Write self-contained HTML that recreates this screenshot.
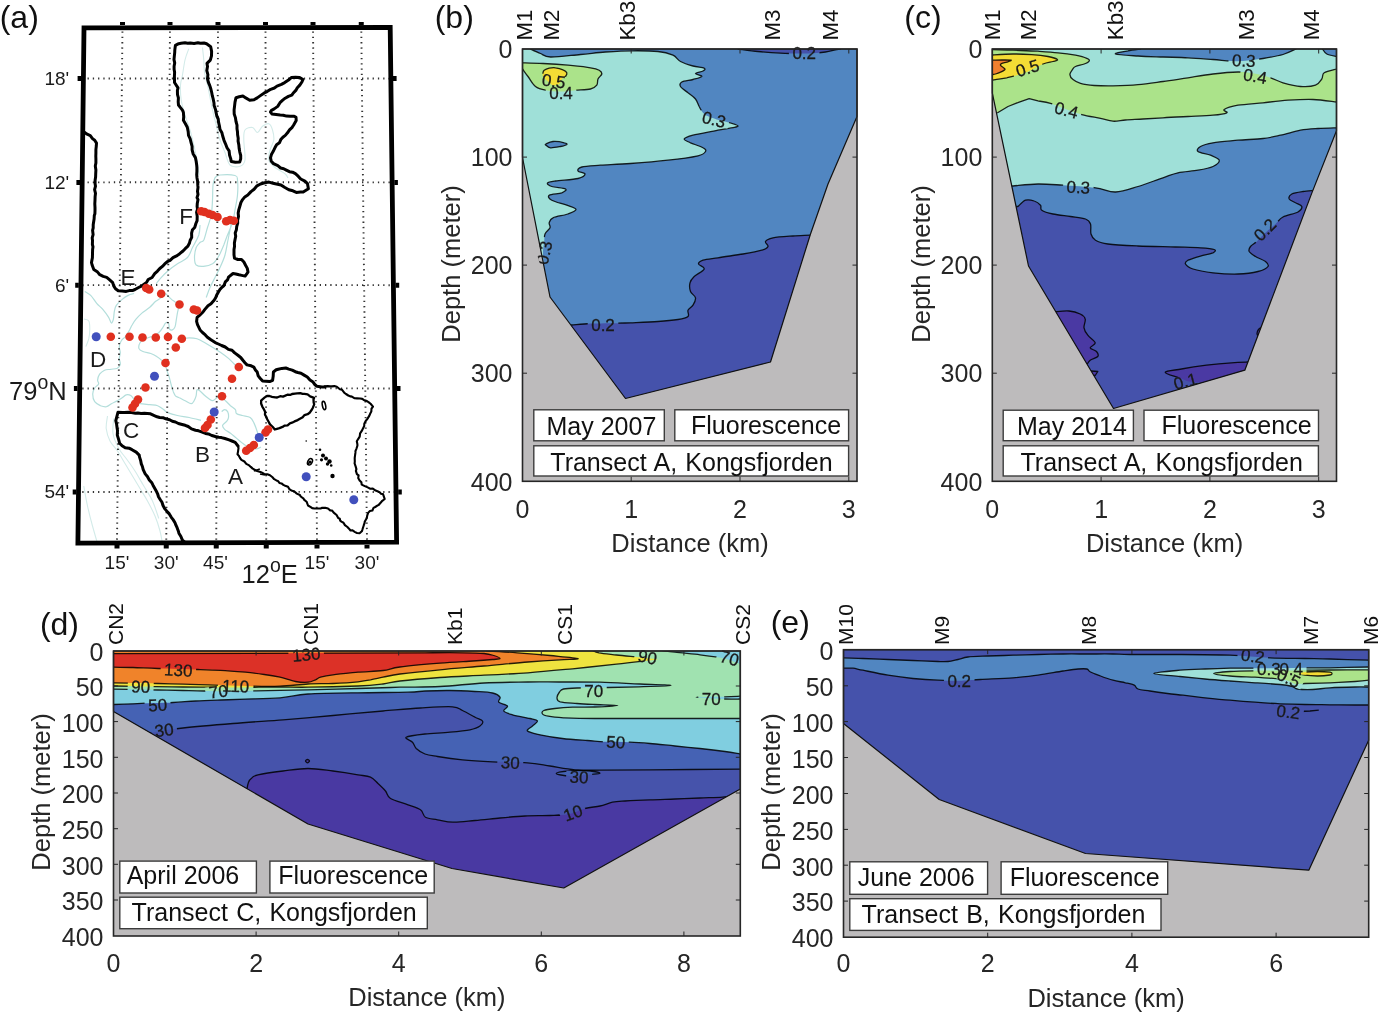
<!DOCTYPE html>
<html lang="en"><head><meta charset="utf-8"><title>Kongsfjorden fluorescence transects</title>
<style>html,body{margin:0;padding:0;background:#fff}svg{display:block}text{font-family:"Liberation Sans",Arial,sans-serif}</style>
</head><body>
<svg width="1382" height="1016" viewBox="0 0 1382 1016">
<rect width="1382" height="1016" fill="#fff"/>
<clipPath id="clip_a"><path d="M84.0 27.8 L390.2 27.5 L396.6 542.2 L77.9 543.2 Z"/></clipPath>
<g clip-path="url(#clip_a)">
<path d="M188.8 48.8 C188.1 50.6 186 55.6 185 60 C184 64.4 183.2 70.8 182.5 75 C181.8 79.2 180.7 80.8 180.5 85 C180.3 89.2 180.5 95 181.2 100 C182 105 183.5 110 185 115 C186.5 120 188.5 125 190 130 C191.5 135 192.6 140 193.8 145 C194.9 150 196.1 155 197 160 C197.9 165 198.7 172.5 199 175 M202.5 47.5 C202.7 49.6 203.4 55.8 203.8 60 C204.1 64.2 203.9 68.3 204.5 72.5 C205.1 76.7 206.6 80.8 207.5 85 C208.4 89.2 209.2 93.3 210 97.5 C210.8 101.7 211.5 105.4 212.5 110 C213.5 114.6 215 120 216.2 125 C217.5 130 218.5 135.4 220 140 C221.5 144.6 223.3 148.3 225 152.5 C226.7 156.7 227.5 162.7 230 165 C232.5 167.3 237.5 167.1 240 166.2 C242.5 165.4 244.4 164.4 245 160 C245.6 155.6 243.8 145 243.8 140 C243.8 135 243.5 132.1 245 130 C246.5 127.9 250.4 127.1 252.5 127.5 C254.6 127.9 255.8 132.7 257.5 132.5 C259.2 132.3 260.6 127.7 262.5 126.2 C264.4 124.8 267.1 123.1 268.8 123.8 C270.4 124.4 271.7 127.3 272.5 130 C273.3 132.7 274.2 136.7 273.8 140 C273.3 143.3 270.8 146.7 270 150 C269.2 153.3 267.9 157.1 268.8 160 C269.6 162.9 272.3 165.2 275 167.5 C277.7 169.8 282.8 172 285 173.8 C287.2 175.5 287.5 177.3 288 178 M83.9 319.1 C84.7 319.4 87.8 319.4 88.8 321 C89.8 322.7 89.8 325.9 89.8 328.9 C89.8 331.9 89.4 335.8 88.8 338.7 C88.1 341.7 86.3 345.3 85.8 346.6 M107.5 416 C107.3 418.1 105.8 424.3 106.2 428.5 C106.7 432.7 108.1 437.2 110 441 C111.9 444.8 115 447.2 117.5 451 C120 454.8 122.5 459.3 125 463.5 C127.5 467.7 130 471.8 132.5 476 C135 480.2 137.5 484.3 140 488.5 C142.5 492.7 145 496.4 147.5 501 C150 505.6 152.9 511 155 516 C157.1 521 158.8 526.4 160 531 C161.2 535.6 162.1 541.4 162.5 543.5 M83.8 486 C84.4 489.3 86 499.3 87.5 506 C89 512.7 90.8 519.8 92.5 526 C94.2 532.2 96.7 540.6 97.5 543.5 M113.8 418.5 C113.6 421 112.2 428.5 113 433.5 C113.8 438.5 116.5 444.3 118.8 448.5 C121 452.7 123.5 454.8 126.2 458.5 C129 462.2 132.1 466.4 135 471 C137.9 475.6 140.8 481 143.8 486 C146.7 491 150 495.6 152.5 501 C155 506.4 157.7 515.6 158.8 518.5 " fill="none" stroke="#d3ebe9" stroke-width="1.1"/>
<path d="M215 177.5 C215.8 177.1 216.7 175.3 220 175 C223.3 174.7 232.1 174.7 235 175.5 C237.9 176.3 237.1 176.8 237.5 180 C237.9 183.2 237.9 190 237.5 195 C237.1 200 235.8 205.4 235 210 C234.2 214.6 233.8 218.3 232.5 222.5 C231.2 226.7 229 231.2 227.5 235 C226 238.8 225 241.9 223.8 245 C222.5 248.1 221.2 251.2 220 253.8 C218.8 256.2 217.5 258.3 216.2 260 C215 261.7 214.4 262.7 212.5 263.8 C210.6 264.8 207.7 266 205 266.2 C202.3 266.5 198 266.5 196.2 265 C194.5 263.5 194.5 260.4 194.5 257.5 C194.5 254.6 195.3 250 196.2 247.5 C197.2 245 198.8 243.8 200 242.5 C201.2 241.2 202.5 242.5 203.8 240 C205 237.5 206.2 231.7 207.5 227.5 C208.8 223.3 210.4 219.6 211.2 215 C212.1 210.4 212.2 205 212.5 200 C212.8 195 212.6 188.8 213 185 C213.4 181.2 214.7 178.8 215 177.5 M200 225 C199.8 226.7 200 231.2 198.8 235 C197.5 238.8 194.4 243.8 192.5 247.5 C190.6 251.2 190 254.8 187.5 257.5 C185 260.2 180.8 261.5 177.5 263.8 C174.2 266 170.4 268.8 167.5 271.2 C164.6 273.8 161.9 276.7 160 278.8 C158.1 280.8 156.9 282.9 156.2 283.8 M232.5 217.5 C232.1 219.6 230.8 225.8 230 230 C229.2 234.2 228.3 238.3 227.5 242.5 C226.7 246.7 226.2 250.8 225 255 C223.8 259.2 221.7 263.8 220 267.5 C218.3 271.2 216.7 274.2 215 277.5 C213.3 280.8 211.5 284.2 210 287.5 C208.5 290.8 206.9 295.8 206.2 297.5 M165.6 293.5 C164.9 294.1 163.3 296.1 161.6 297.4 C160 298.7 157.7 299.7 155.7 301.3 C153.7 303 152.1 305.3 149.8 307.2 C147.5 309.2 144.2 311.2 141.9 313.1 C139.6 315.1 137.7 317.1 136 319.1 C134.4 321 133.2 323 132.1 325 C130.9 326.9 130.3 328.9 129.1 330.9 C128 332.8 126.5 335.1 125.2 336.8 C123.9 338.4 122.2 339.1 121.3 340.7 C120.3 342.3 119.5 344.6 119.3 346.6 C119.1 348.6 120.3 350.6 120.3 352.5 C120.3 354.5 119.3 356.5 119.3 358.4 C119.3 360.4 120.6 362.7 120.3 364.3 C119.9 366 119 367.4 117.3 368.3 C115.7 369.1 112.6 368.9 110.4 369.3 C108.3 369.6 106.3 369.4 104.5 370.2 C102.7 371.1 100.8 372.5 99.6 374.2 C98.5 375.8 97.8 378.4 97.6 380.1 C97.5 381.7 99.1 382.7 98.6 384 C98.1 385.3 95.7 386.3 94.7 388 C93.7 389.6 92.7 391.6 92.7 393.9 C92.7 396.2 93.4 399.8 94.7 401.7 C96 403.7 98.6 404.8 100.6 405.7 C102.6 406.5 104.7 407 106.5 406.7 C108.3 406.3 109.6 404.7 111.4 403.7 C113.2 402.7 115.5 401.7 117.3 400.7 C119.1 399.8 120.8 398.8 122.2 397.8 C123.7 396.8 124.7 395.2 126.2 394.8 C127.7 394.5 129.5 394.7 131.1 395.8 C132.7 397 134.5 400.4 136 401.7 C137.5 403 137.7 403.2 140 403.7 C142.3 404.2 146.9 404.4 149.8 404.7 C152.8 405 155.4 404.8 157.7 405.7 C160 406.5 161.9 408.5 163.6 409.6 C165.2 410.8 165.2 411.6 167.5 412.6 C169.8 413.5 173.8 414.7 177.4 415.5 C181 416.3 185.2 416.7 189.2 417.5 C193.1 418.3 199 419.9 201 420.4 M165.6 293.5 C166.5 294.4 169.8 297.9 171.5 299.4 C173.1 300.8 174.2 301 175.4 302.3 C176.5 303.6 178 305.4 178.3 307.2 C178.7 309 177.7 311.2 177.4 313.1 C177 315.1 176.8 316.8 176.4 319.1 C176 321.4 175.7 325.1 175 326.9 C174.3 328.7 173.4 329.6 172.4 329.9 C171.5 330.2 170.1 330 169.5 328.9 C168.8 327.7 169.2 324 168.5 323 C167.8 322 166.5 322.2 165.6 323 C164.6 323.8 163.7 326.3 162.6 327.9 C161.5 329.6 160.1 331.5 158.7 332.8 C157.2 334.1 155.5 335 153.7 335.8 C151.9 336.6 149.5 337.3 147.8 337.8 C146.2 338.2 145.2 337.9 143.9 338.7 C142.6 339.6 140.8 341 140 342.7 C139.1 344.3 138.5 347.1 139 348.6 C139.5 350.1 140.9 350.7 142.9 351.5 C144.9 352.4 148.5 352.7 150.8 353.5 C153.1 354.3 154.9 355.3 156.7 356.5 C158.5 357.6 160.1 358.8 161.6 360.4 C163.1 362 164.6 364.3 165.6 366.3 C166.5 368.3 166.9 370.2 167.5 372.2 C168.2 374.2 168.8 375.8 169.5 378.1 C170.1 380.4 170.8 383.7 171.5 386 C172.1 388.3 172.8 390.2 173.4 391.9 C174.1 393.5 174.4 394.8 175.4 395.8 C176.4 396.8 177.7 397 179.3 397.8 C181 398.6 183.3 399.8 185.2 400.7 C187.2 401.7 189.7 403.7 191.1 403.7 C192.6 403.7 193.3 402.1 194.1 400.7 C194.9 399.4 195.6 397.6 196.1 395.8 C196.6 394 196.4 390.7 197 389.9 C197.7 389.1 198.9 390.1 200 390.9 C201.1 391.7 202.5 393.5 203.9 394.8 C205.4 396.2 207.4 397.8 208.9 398.8 C210.3 399.8 211.5 400.9 212.8 400.7 C214.1 400.6 215.4 398.6 216.7 397.8 C218 397 219.4 395.5 220.7 395.8 C222 396.2 223 398.1 224.6 399.8 C226.2 401.4 228.7 404 230.5 405.7 C232.3 407.3 234.4 408.3 235.4 409.6 C236.4 410.9 235.3 412.6 236.4 413.5 C237.6 414.5 240 414.9 242.3 415.5 C244.6 416.2 248.2 416.2 250.2 417.5 C252.2 418.8 253 421.1 254.1 423.4 C255.3 425.7 256.3 429 257.1 431.3 C257.9 433.6 258.7 436.2 259.1 437.2 M221.7 411.6 C222.1 411.2 223.6 409.6 224.6 409.6 C225.6 409.6 226.9 410.3 227.6 411.6 C228.2 412.9 228.7 415.8 228.5 417.5 C228.4 419.1 227.6 420.1 226.6 421.4 C225.6 422.7 223 424 222.6 425.4 C222.3 426.7 223.3 428 224.6 429.3 C225.9 430.6 228.5 431.8 230.5 433.2 C232.5 434.7 234.4 436.5 236.4 438.1 C238.4 439.8 240.4 441.6 242.3 443.1 C244.3 444.5 245.9 446 248.2 447 C250.5 448 254 449 256.1 449 C258.2 449 260.2 447.3 261 447 M84.8 291.5 C85.8 292.2 88.8 293.5 90.7 295.4 C92.7 297.4 94.7 301 96.7 303.3 C98.6 305.6 100.6 306.9 102.6 309.2 C104.5 311.5 107 314.8 108.5 317.1 C109.9 319.4 110.6 322.7 111.4 323 C112.2 323.3 112.9 321 113.4 319.1 C113.9 317.1 113.9 313.5 114.4 311.2 C114.9 308.9 115 307.2 116.3 305.3 C117.7 303.3 120.3 301 122.2 299.4 C124.2 297.7 126.2 296.4 128.1 295.4 C130.1 294.4 133.1 293.8 134.1 293.5 M181.3 338.7 C182.6 338.6 186.5 337.8 189.2 337.8 C191.8 337.8 194.4 337.9 197 338.7 C199.7 339.6 202.3 341.2 204.9 342.7 C207.5 344.2 210.2 346 212.8 347.6 C215.4 349.2 218 350.7 220.7 352.5 C223.3 354.3 225.9 356.1 228.5 358.4 C231.2 360.7 235.1 365 236.4 366.3 " fill="none" stroke="#b3dedb" stroke-width="1.2"/>
<path d="M122.5 26.25 L117 543 M170 26.25 L166.25 543 M218 26.25 L216.25 543 M265.5 26.25 L266.25 543 M313 26.25 L317 543 M361.25 26.25 L367 543 M77 78.6 Q237 78.19999999999999 398 78.6 M77 182.4 Q237 182.0 398 182.4 M77 285.2 Q237 284.8 398 285.2 M77 388.5 Q237 388.1 398 388.5 M77 492 Q237 491.6 398 492 " fill="none" stroke="#333" stroke-width="1.9" stroke-dasharray="1.3 3.98"/>
<path d="M82 130 L84.7 132.5 L87.1 134.2 L90.3 135.6 L92.5 138.6 L94.7 140.2 L96.5 143.1 L96.3 146 L95.9 149.6 L95.9 153.1 L95.8 156.2 L95.9 158.9 L95.9 163 L95.3 166 L95.9 170 L95.7 173.8 L95.6 177.1 L95.1 180.3 L95.1 183.8 L95.5 186.2 L94.6 189.7 L95.5 193.3 L95.1 196.6 L95 200.2 L94.8 203.8 L95 207.4 L95 210.5 L94.9 213.7 L94.3 215.5 L94.1 219 L93.7 221.5 L93.2 224.7 L93.2 227.8 L92.6 230.3 L93.1 234.6 L92.2 237.8 L92.5 240.5 L92.4 244.5 L93 246.8 L92.6 249.5 L92.5 253.7 L92.4 257.8 L91.8 260.9 L91.5 262.6 L92.1 265 L93.8 269.6 L97.6 272.1 L99.8 274.7 L103.2 276.4 L106.7 277.4 L109.7 279.9 L112.7 282.6 L113.7 285.9 L115.5 288.8 L118.2 290.7 L122.2 291 L126.2 291.4 L129.2 290.6 L132.4 290.6 L135 289.5 L138.6 287.5 L141.4 286.2 L144.1 284.2 L146.6 282.4 L148.2 279.5 L152.1 277.5 L154.7 273.7 L157.5 271.1 L159.8 268.5 L162.4 266.4 L164.7 263.9 L167.6 261.5 L170.1 260.3 L173 257.7 L177.1 255.6 L179.7 253.7 L183 251 L185.2 248.7 L187.9 246.2 L189.5 243 L190.1 240.5 L191.7 237.4 L191.6 233.2 L192.5 229.7 L194.7 227.5 L195.9 223.5 L197.1 220.6 L197.2 216.4 L196.6 212.3 L197.5 209.3 L197.1 206.4 L197.3 203.2 L198 199.6 L197 197.6 L198 194.5 L197.5 191.3 L198 187.4 L197.8 185.4 L197.6 181.3 L197 178 L196.7 174.5 L196.9 171.3 L196.9 167.6 L196.7 165.2 L196.2 161.5 L195.4 157.6 L193.2 154 L192.1 149.8 L192.1 146.3 L191.2 143 L190.1 138.6 L188.5 135.4 L188.2 131.6 L187.3 127.2 L185.7 124.3 L183.4 120.3 L183.7 117 L183.4 112.5 L182.6 110.4 L180.1 107.2 L178.5 105 L178.2 101.9 L178.4 97.8 L177.5 94.6 L177.4 90.5 L178 87.9 L174.5 82.5 L174.5 79.4 L174.4 76.4 L174.6 72.3 L174.1 69.3 L174.1 66.3 L174.7 62.9 L174 59.6 L174.3 56.4 L174.7 52.7 L174.8 50.1 L175.4 45.4 L178.7 43.7 L181.1 43.3 L185 42.7 L187.6 43.2 L190.3 42.9 L194.1 43.4 L197.9 42.8 L200.4 43.3 L204 43 L206.6 43.8 L210.7 46.7 L211.6 51.4 L211.5 55.8 L210.3 60.1 L207 63.4 L207.5 66.5 L206.8 70.6 L207.9 74.6 L207.5 78.9 L208.4 82.3 L209.7 85.4 L210.8 88.8 L211.6 92 L212.3 95.7 L213.1 98.6 L214 103 L214.1 105.6 L215.5 109.5 L216 112.1 L216.8 116 L218.2 119 L218.6 122.4 L219.4 125.8 L220 129.4 L221.8 132.4 L222.7 136 L224 140.3 L225.5 143.8 L227 147.7 L229.1 150.9 L229.6 155.3 L230.7 158.6 L231.2 161.5 L235.3 162.2 L239.7 162.1 L240.7 158.9 L240.7 155.5 L239.8 152.1 L239.2 148.8 L238.8 144.7 L238.1 141.1 L238.2 138.2 L237.6 134.8 L237.5 131.9 L237 128.7 L237 125.1 L236 121.5 L235.4 117.6 L234.2 114 L234.1 109.9 L234.5 106.6 L235 102.2 L236 97.7 L239.2 96.8 L242.9 96 L245.8 97.9 L249.7 100.2 L254 99.8 L257.2 97.9 L260.4 95.6 L264.3 92.9 L267.1 91.6 L270.7 89.3 L274.4 88 L277 86.1 L281.4 84.3 L284.7 82.6 L288.5 80 L291.3 77.6 L295.6 77.2 L299.6 77.4 L302.9 79.6 L301.9 82 L299.8 85.1 L297.3 87.7 L295.8 90.4 L293.3 93 L291.8 95.2 L288.4 96.4 L285.2 98.2 L282.7 100.2 L280 102.7 L277.7 106.4 L274.2 108.9 L271.5 110.3 L270.5 112.1 L271.9 113.9 L276.1 114.5 L280.2 115 L283.3 115.2 L286.5 116.1 L290.3 116.3 L294.2 116.3 L296 117.4 L296.2 120.4 L293.8 124.7 L292.2 127.3 L289.5 129.9 L287.5 132.8 L285.3 135.4 L282.9 137.2 L280.8 139.6 L279.4 142.8 L276.6 144.7 L274.9 147.8 L273.1 151.6 L271.4 154.6 L270.5 157.9 L271.3 161.3 L273.5 163.6 L277.8 165.7 L280.6 168 L283.7 168.7 L286.3 170.1 L289.4 171.7 L292.5 172.2 L295.4 173.7 L298.4 176.4 L300.7 179 L304.9 181.2 L307.5 183.7 L308.4 188.8 L303.2 192 L300.5 192.1 L296.3 192.4 L292.9 190.8 L288.8 189.7 L284.5 187.3 L281 185 L277.5 184.2 L273 183.2 L269 182.1 L264.6 182.8 L260.5 184 L257 185.8 L254.1 189.2 L251 191.6 L247.8 195 L244.8 196.9 L242.6 199.6 L240.9 202.5 L239.9 206.1 L238.7 210.2 L238.2 213.1 L238.5 216.5 L237.6 220.4 L237.7 223.2 L236.7 226.7 L236.4 229.7 L235.2 233 L235.7 236.3 L235 239.7 L234.4 243 L234.5 246.4 L234 249.6 L234 254.9 L234.5 258.2 L237.8 259.5 L241.5 259.5 L243.9 262 L245.7 265.5 L247.3 268.4 L248 272.1 L245.1 276.1 L241.7 275.4 L239 274.8 L235.8 274 L233 273.5 L228.5 277.2 L227.5 279.9 L225.3 281.9 L224 285.5 L222.2 287 L219.9 289.5 L218.4 292 L216.6 295.2 L215.9 297.3 L214.3 300 L211 303.7 L208 305.7 L204.7 309.6 L203 312 L199.5 315.3 L197.1 317.4 L196.6 321.4 L197.5 324.6 L200.3 330.3 L202.5 332.5 L205.3 334.9 L207.4 337.2 L210.2 339.3 L212.1 340.6 L215.2 342.6 L218.4 344 L221.6 345.5 L225.2 347 L228.4 349.4 L232 350.2 L234.7 352.9 L237.9 355.3 L240.7 357.5 L242.9 360.3 L244.9 362.7 L247 364.9 L251.2 365.8 L253.8 367.1 L255.4 369.9 L257.2 372 L258.2 375.9 L260.1 378.2 L262.6 381 L265.9 381.3 L269.6 381.6 L272.6 380.3 L273.2 376.1 L273.4 372 L276.2 369.8 L278.2 369.3 L281.9 368.4 L285.8 368 L288.8 369.1 L292.2 370.1 L295.3 371.7 L297.8 372.5 L301 373.2 L304.1 375.1 L307.3 377 L310 380 L312.7 381.7 L314.8 384.5 L317 386.3 L322 386.9 L325 387" fill="none" stroke="#000" stroke-width="3" stroke-linejoin="round" stroke-linecap="round"/>
<path d="M238 446 L235.2 442.4 L231.9 441 L229.1 439.9 L224.9 438.5 L221.4 437.6 L218.8 437.2 L215.4 436.5 L211.8 435.5 L208.4 433.9 L205.5 433.4 L202.2 432 L198.6 430.8 L195.5 430.2 L191.5 428.9 L188.2 426.5 L185.2 425.3 L182.1 424.5 L178.4 423.5 L175.4 422 L172.3 421.3 L169.6 419.8 L165.8 418.9 L163 417.7 L159.6 417.5 L157.1 416.8 L154.3 415.6 L150.5 413.8 L147.3 413.5 L144.4 413.2 L141.1 413.4 L137.9 413 L135.4 413.3 L131.4 412.6 L128.3 412.2 L124.3 412.6 L122.5 412.5 L118 412.2 L117.1 415.6 L115.8 420.7 L116.6 424.2 L117.1 428 L117.5 430.5 L117.3 435.1 L118.7 439.6 L119.6 443.2 L122.1 445.8 L125.2 447.7 L129.1 448.2 L132 449.7 L136.2 452.1 L139.2 455.1 L139.5 456.9 L140.7 460.7 L141.3 463.9 L142.4 466.5 L143.2 469.7 L145.2 473.9 L147.4 476.5 L149.3 479.9 L151.6 482.4 L153 485.2 L154.4 487.7 L156.5 491.5 L157.6 493.8 L158.5 496.8 L160.3 499.7 L162 502.3 L163 505.6 L164.9 508.9 L167.4 511.9 L169.3 513.9 L171.3 517.3 L173.1 519.6 L175 522.7 L175.8 524.9 L177.1 527.7 L178.4 531.2 L178.9 533.2 L180.9 536.5 L182.4 540.1 L185 542.4 L187.5 544.8" fill="none" stroke="#000" stroke-width="3" stroke-linejoin="round" stroke-linecap="round"/>
<path d="M324.7 386.4 L327.7 386.1 L330.1 386.4 L331.8 386.4 L334.3 386.1 L336.8 386.8 L339.9 389.3 L341.9 389.6 L344.4 392.8 L346 394 L348.3 395.5 L350.6 396.4 L351.9 396.6 L354.7 398.3 L357 398.4 L360.2 398.5 L362.3 398.9 L363.7 399.9 L366.9 401.1 L368.5 402.1 L370.6 403.8 L373 406.6 L371.5 408.7 L371.3 411.6 L370.4 413.2 L369.5 415.4 L367.4 418.9 L365.7 421 L364.3 423.8 L364.2 426.1 L363.1 428.2 L361.6 431.2 L360.1 433.4 L359.7 436.7 L358.3 438.8 L356.8 441.3 L357.4 444.3 L357.4 445.7 L356.4 448.8 L355.5 450.9 L355.4 452.9 L354.9 456.4 L354.7 458.1 L354.8 461.6 L354.6 463.4 L355.7 466.6 L356.4 469.1 L355.9 470.9 L356.9 474.1 L358.6 475.4 L358.2 478.1 L359.6 480.6 L361.4 482.3 L361.7 484.6 L364.8 486.1 L368.2 487.6 L370 488.7 L372.8 488.6 L375.6 490.6 L378.1 491.5 L379.4 492.1 L381 493.7 L383 494.1 L383.9 496.7 L384.7 499 L382.3 500.8 L380.6 502.7 L378.6 505 L377.7 505.4 L375.2 507 L373.5 507.9 L372.4 510.5 L369.9 511 L368.1 512.9 L367.2 515.6 L366.8 518 L364.7 521.7 L364.6 522.9 L363.8 525.2 L362.5 529.3 L361.8 531.3 L359.6 533.3 L357 533 L355.1 532.1 L352.2 530.2 L350.5 530.5 L349 528.7 L347.4 527 L344.9 525.1 L343.5 522.7 L341.4 521.6 L340.2 520.7 L339.8 518.7 L338.2 518 L336.6 515 L333.7 512.6 L332 510.5 L330.2 510.4 L328 508.5 L325.2 507.7 L321.8 507.9 L320.7 508.5 L317.9 508.5 L314.5 508.5 L312.2 508.1 L310.8 507.1 L308 505.5 L306.6 501.7 L304 499.6 L303.6 498.6 L300.7 496.5 L299.9 495 L296.8 493.6 L294.4 491.5 L293.9 491.2 L291.3 490.4 L289.3 489.1 L288 486.8 L285.2 485.7 L283.3 484.9 L281.5 483.4 L279.4 482.9 L277.9 480.9 L276.4 480.4 L274.2 479.2 L272.5 477.3 L270 475.2 L267.4 474.2 L264.2 474 L262 472.6 L260.4 471.9 L257.2 471 L255.5 470.2 L252.7 468.6 L250.8 466.9 L249.2 465.4 L246.3 463.9 L244.4 461.5 L241.4 459.8 L240 458 L238.7 455.6 L237.5 454.2 L238 451.6 L238.5 448.1 L238 446" fill="none" stroke="#000" stroke-width="2.1" stroke-linejoin="round" stroke-linecap="round"/>
<path d="M261.3 400.3 L264.8 397.4 L267 395.9 L269.5 396 L272 396.8 L275.3 397.4 L277.1 397.5 L280.2 396.2 L283 396.6 L284.7 395.9 L287.4 394.7 L290.6 394.8 L292.1 394 L295 393.6 L297.1 393.3 L300.3 393.1 L302.6 393.8 L304.4 393.9 L307.6 394.3 L310.1 396.3 L314.1 397.8 L313.5 399.5 L313.7 402.6 L314.2 404.3 L312.9 407.7 L311.9 409.5 L309.6 412.8 L307.6 414.2 L304.5 415.1 L302.7 417.2 L299.5 419 L297.7 420.1 L294.5 421.4 L292 422.7 L289.9 423.3 L287.6 425.3 L284.7 425.6 L282.5 426.9 L279.5 428.1 L277 428.8 L274.8 429.5 L272.8 427 L270 424.4 L268.6 421.7 L267.2 419.2 L266.5 417.3 L265 414.7 L265.1 411.8 L264.1 409.7 L262.5 407 L261.1 403.5 L261.2 399.8" fill="none" stroke="#000" stroke-width="2.3" stroke-linejoin="round"/>
<circle cx="310" cy="462.2" r="1.6" fill="#000"/>
<circle cx="320" cy="449.8" r="1.3" fill="#000"/>
<circle cx="323" cy="455.5" r="2.0" fill="#000"/>
<circle cx="326" cy="458.5" r="2.0" fill="#000"/>
<circle cx="329.5" cy="461.5" r="2.2" fill="#000"/>
<circle cx="332.5" cy="476" r="2.2" fill="#000"/>
<circle cx="306.2" cy="441" r="0.8" fill="#000"/>
<circle cx="327.5" cy="464" r="1.7" fill="#000"/>
<circle cx="321.5" cy="459.8" r="1.6" fill="#000"/>
<circle cx="308" cy="464" r="1.2" fill="#000"/>
<circle cx="331.2" cy="465.5" r="1.3" fill="#000"/>
<ellipse cx="324" cy="405.5" rx="1.6" ry="4.2" fill="none" stroke="#000" stroke-width="1.6" transform="rotate(-12 324 405.5)"/>
<ellipse cx="310" cy="461.8" rx="2.2" ry="3.4" fill="none" stroke="#000" stroke-width="1.5" transform="rotate(25 310 461.8)"/>
<path d="M253.8 471 l6 -2 M260 474 l5 1" stroke="#000" stroke-width="1.5"/>
<circle cx="201.2" cy="211.2" r="4.3" fill="#e0301f"/>
<circle cx="204.5" cy="212" r="4.3" fill="#e0301f"/>
<circle cx="208.8" cy="213.8" r="4.3" fill="#e0301f"/>
<circle cx="212.5" cy="215" r="4.3" fill="#e0301f"/>
<circle cx="217.5" cy="217" r="4.3" fill="#e0301f"/>
<circle cx="226.2" cy="221.2" r="4.3" fill="#e0301f"/>
<circle cx="230" cy="220" r="4.3" fill="#e0301f"/>
<circle cx="233.8" cy="220.8" r="4.3" fill="#e0301f"/>
<circle cx="146.2" cy="288" r="4.3" fill="#e0301f"/>
<circle cx="149.2" cy="289.5" r="4.3" fill="#e0301f"/>
<circle cx="161.2" cy="293.8" r="4.3" fill="#e0301f"/>
<circle cx="179.5" cy="304.5" r="4.3" fill="#e0301f"/>
<circle cx="193.8" cy="309.5" r="4.3" fill="#e0301f"/>
<circle cx="197" cy="310.5" r="4.3" fill="#e0301f"/>
<circle cx="110.8" cy="336.8" r="4.3" fill="#e0301f"/>
<circle cx="129.5" cy="336.8" r="4.3" fill="#e0301f"/>
<circle cx="142.5" cy="337.5" r="4.3" fill="#e0301f"/>
<circle cx="155.8" cy="337.5" r="4.3" fill="#e0301f"/>
<circle cx="168" cy="337" r="4.3" fill="#e0301f"/>
<circle cx="181.8" cy="338.8" r="4.3" fill="#e0301f"/>
<circle cx="175.8" cy="347.5" r="4.3" fill="#e0301f"/>
<circle cx="165.5" cy="363" r="4.3" fill="#e0301f"/>
<circle cx="145.5" cy="387.5" r="4.3" fill="#e0301f"/>
<circle cx="138" cy="399.5" r="4.3" fill="#e0301f"/>
<circle cx="135" cy="403.8" r="4.3" fill="#e0301f"/>
<circle cx="132.5" cy="407.5" r="4.3" fill="#e0301f"/>
<circle cx="222" cy="396.2" r="4.3" fill="#e0301f"/>
<circle cx="210.8" cy="419.5" r="4.3" fill="#e0301f"/>
<circle cx="207.5" cy="425" r="4.3" fill="#e0301f"/>
<circle cx="205" cy="428" r="4.3" fill="#e0301f"/>
<circle cx="238.8" cy="367" r="4.3" fill="#e0301f"/>
<circle cx="232" cy="378.8" r="4.3" fill="#e0301f"/>
<circle cx="268" cy="429.5" r="4.3" fill="#e0301f"/>
<circle cx="265.5" cy="432.5" r="4.3" fill="#e0301f"/>
<circle cx="253.8" cy="445" r="4.3" fill="#e0301f"/>
<circle cx="250" cy="448" r="4.3" fill="#e0301f"/>
<circle cx="246.2" cy="450.8" r="4.3" fill="#e0301f"/>
<circle cx="96.2" cy="336.8" r="4.5" fill="#4150bd"/>
<circle cx="154.5" cy="376.2" r="4.5" fill="#4150bd"/>
<circle cx="214.2" cy="412" r="4.5" fill="#4150bd"/>
<circle cx="259.2" cy="437.5" r="4.5" fill="#4150bd"/>
<circle cx="306.2" cy="476.8" r="4.5" fill="#4150bd"/>
<circle cx="353.8" cy="499.8" r="4.5" fill="#4150bd"/>
</g>
<path d="M84.0 27.8 L390.2 27.5 L396.6 542.2 L77.9 543.2 Z" fill="none" stroke="#000" stroke-width="4.8" stroke-linejoin="miter"/>
<path d="M122.5 25 v-3 M170 25 v-3 M218 25 v-3 M265.5 25 v-3 M313 25 v-3 M361.25 25 v-3 M117 545 v3.5 M166.25 545 v3.5 M216.25 545 v3.5 M266.25 545 v3.5 M317 545 v3.5 M367 545 v3.5 M81.2 78.6 h-3.6 M393 78.6 h3.6 M80 182.4 h-3.6 M394.3 182.4 h3.6 M78.8 285.2 h-3.6 M395.6 285.2 h3.6 M77.5 388.5 h-3.6 M396.9 388.5 h3.6 M76.3 492 h-3.6 M398.2 492 h3.6 " stroke="#000" stroke-width="5" fill="none"/>
<text x="-0.3" y="27.8" font-size="32" text-anchor="start" fill="#111">(a)</text>
<text x="69.2" y="84.6" font-size="19" text-anchor="end" fill="#1a1a1a">18'</text>
<text x="69.2" y="188.6" font-size="19" text-anchor="end" fill="#1a1a1a">12'</text>
<text x="69.2" y="291.6" font-size="19" text-anchor="end" fill="#1a1a1a">6'</text>
<text x="69.2" y="498.1" font-size="19" text-anchor="end" fill="#1a1a1a">54'</text>
<text x="9" y="399.5" font-size="25.5" fill="#1a1a1a">79<tspan font-size="19.5" dy="-10.5">o</tspan><tspan dy="10.5">N</tspan></text>
<text x="117" y="568.5" font-size="19" text-anchor="middle" fill="#1a1a1a">15'</text>
<text x="166.2" y="568.5" font-size="19" text-anchor="middle" fill="#1a1a1a">30'</text>
<text x="215.5" y="568.5" font-size="19" text-anchor="middle" fill="#1a1a1a">45'</text>
<text x="317" y="568.5" font-size="19" text-anchor="middle" fill="#1a1a1a">15'</text>
<text x="367" y="568.5" font-size="19" text-anchor="middle" fill="#1a1a1a">30'</text>
<text x="241.5" y="582.5" font-size="25.5" fill="#1a1a1a">12<tspan font-size="19.5" dy="-10.5">o</tspan><tspan dy="10.5">E</tspan></text>
<text x="128" y="285" font-size="22.5" text-anchor="middle" fill="#1a1a1a">E</text>
<text x="98" y="367" font-size="22.5" text-anchor="middle" fill="#1a1a1a">D</text>
<text x="131.2" y="438" font-size="22.5" text-anchor="middle" fill="#1a1a1a">C</text>
<text x="186.2" y="223.8" font-size="22.5" text-anchor="middle" fill="#1a1a1a">F</text>
<text x="202.5" y="461.5" font-size="22.5" text-anchor="middle" fill="#1a1a1a">B</text>
<text x="235.5" y="484" font-size="22.5" text-anchor="middle" fill="#1a1a1a">A</text>
<rect x="522.5" y="49.0" width="334.5" height="432.3" fill="#bdbbbc"/>
<path d="M522.5 49 L522.5 157.5 L550 297 L625.5 398.5 L770.5 362 L810.5 234 L828 184 L857 116.5 L857 49 Z" fill="#5186c1" stroke="none" stroke-width="1.3" stroke-linejoin="round"/>
<clipPath id="clip_b"><path d="M522.5 49 L522.5 157.5 L550 297 L625.5 398.5 L770.5 362 L810.5 234 L828 184 L857 116.5 L857 49 Z"/></clipPath>
<defs>
<path id="b0" d="M530.5 39 L530.5 49 C532.2 49.8 537.2 52.2 540.5 53.5 C543.8 54.8 543.8 56.8 550.5 57 C557.2 57.2 571.3 55.3 580.5 54.5 C589.7 53.7 597 52.6 605.5 52 C614 51.4 623 50.8 631.8 50.8 C640.5 50.7 651.1 50.8 658 51.5 C664.9 52.2 669.2 53.6 673 55.2 C676.8 56.9 677.2 59.7 680.5 61.5 C683.8 63.3 689 64.9 693 66 C697 67.1 702.6 67.4 704.2 68.2 C705.9 69.1 704.5 70.1 703 71 C701.5 71.9 695.7 72.6 695.5 73.5 C695.3 74.4 702.2 75.5 701.8 76.5 C701.3 77.5 696.3 78.6 693 79.5 C689.7 80.4 683.8 80.8 681.8 82 C679.7 83.2 679.5 84.7 680.5 86.5 C681.5 88.3 685.5 90.7 688 92.8 C690.5 94.8 693.6 96.7 695.5 99 C697.4 101.3 697.8 104 699.2 106.5 C700.7 109 701.5 111.9 704.2 114 C707 116.1 709.9 117 715.5 119 C721.1 121 737.6 123.9 738 125.8 C738.4 127.6 725.5 128.7 718 130.2 C710.5 131.8 698.6 133.8 693 135.2 C687.4 136.7 684.7 137.8 684.2 139 C683.8 140.2 687.4 141.3 690.5 142.8 C693.6 144.2 700.5 146.3 703 147.8 C705.5 149.2 706.3 150.2 705.5 151.5 C704.7 152.8 704.2 154.3 698 155.8 C691.8 157.2 679.2 159 668 160.2 C656.8 161.5 641.8 162.7 630.5 163.5 C619.2 164.3 608.6 164.7 600.5 165.2 C592.4 165.8 585.5 166 581.8 167 C578 168 577.5 169.8 578 171 C578.5 172.2 585 172.8 585 174 C585 175.2 582.9 177.3 578 178.5 C573.1 179.7 560.6 180.2 555.5 181 C550.4 181.8 548.1 182.1 547.5 183 C546.9 183.9 548.8 185.5 551.8 186.5 C554.8 187.5 563.8 188 565.5 189 C567.2 190 564.5 191.7 561.8 192.8 C559 193.8 550.9 194 549.2 195.2 C547.6 196.5 548.8 198.6 551.8 200.2 C554.7 201.9 562.7 203.7 566.8 205.2 C570.8 206.8 575.8 208 576 209.5 C576.2 211 571.8 212.6 568 214 C564.2 215.4 556.1 216.3 553 217.8 C549.9 219.2 549.8 221.1 549.2 222.8 C548.8 224.4 550.7 225.9 550 227.8 C549.3 229.6 546 231.7 545 234 C544 236.3 544.6 238.6 544.2 241.5 C543.9 244.4 543.1 247.8 543 251.5 C542.9 255.2 543.4 261.9 543.5 264 L513.5 284 L482.5 157.5 L482.5 39 Z"/>
<path id="b1" d="M482.5 62.8 L522.5 62.8 C525.9 62.9 535.4 63.1 543 63.5 C550.6 63.9 560.1 64.5 568 65.2 C575.9 66 585.3 66.9 590.5 67.8 C595.7 68.6 597.4 69.2 599.2 70.2 C601.1 71.3 602 72.5 601.8 74 C601.5 75.5 598.8 77.1 598 79 C597.2 80.9 598 83.6 596.8 85.2 C595.5 86.9 594 88.2 590.5 89 C587 89.8 580.5 89.8 575.5 90.2 C570.5 90.7 565.5 91.5 560.5 91.5 C555.5 91.5 549.7 91.1 545.5 90.2 C541.3 89.4 538.4 88.8 535.5 86.5 C532.6 84.2 530.2 79.4 528 76.5 C525.8 73.6 523.4 70.2 522.5 69 L482.5 69 Z"/>
<path id="b2" d="M544.2 70.2 C545.3 69.5 547.4 68.7 549.2 68.2 C551.1 67.8 553.2 67.5 555.5 67.8 C557.8 68 561.1 68.9 563 69.8 C564.9 70.6 566.3 71.6 566.8 72.8 C567.2 73.9 566.3 75.5 565.5 76.5 C564.7 77.5 562.8 77.8 561.8 79 C560.7 80.2 560.7 83 559.2 84 C557.8 85 554.9 85.7 553 85.2 C551.1 84.8 549.7 83 548 81.5 C546.3 80 543.8 78 543 76.5 C542.2 75 542.8 73.8 543 72.8 C543.2 71.7 543.2 71 544.2 70.2 Z"/>
<path id="b3" d="M546 144 C547.2 143.4 550 141.7 553 141.5 C556 141.3 562 142.2 564.2 142.8 C566.5 143.2 567.4 143.9 566.8 144.5 C566.1 145.1 563.2 146 560.5 146.5 C557.8 147 552.9 148 550.5 147.8 C548.1 147.5 546.8 145.9 546 145.2 C545.2 144.6 544.8 144.6 546 144 Z"/>
<path id="b4" d="M850.5 235.2 L810.5 235.2 C807.6 235.4 799.2 235.6 793 236 C786.8 236.4 777.6 236.8 773 237.8 C768.4 238.7 766.3 240 765.5 241.5 C764.7 243 768.6 245 768 246.5 C767.4 248 765.9 249 761.8 250.2 C757.6 251.5 750.3 252.8 743 254 C735.7 255.2 724.7 256.7 718 257.8 C711.3 258.8 706.2 259.2 703 260.2 C699.8 261.3 698.3 262.5 698.5 264 C698.7 265.5 705 266.9 704.2 269 C703.5 271.1 696.6 274.2 694.2 276.5 C691.9 278.8 690.6 280.2 690 282.8 C689.4 285.2 689.6 289 690.5 291.5 C691.4 294 695.1 295.5 695.5 297.8 C695.9 300 694.2 303.2 693 305.2 C691.8 307.3 688.8 308.4 688 310.2 C687.2 312.1 689.7 315 688 316.5 C686.3 318 683 318.7 678 319.5 C673 320.3 665.9 321 658 321.5 C650.1 322 637.2 322.5 630.5 322.8 C623.8 323 624.7 323.1 618 323.2 C611.3 323.4 598.2 323.2 590.5 323.5 C582.8 323.8 574.9 324.8 571.8 325 L531.8 325 L531.8 481.3 L857 481.3 Z"/>
<path id="b5" d="M738 39 L738 49 C741.3 49.4 750.9 50.8 758 51.5 C765.1 52.2 774.7 52.9 780.5 53.2 C786.3 53.6 787.6 53.5 793 53.5 C798.4 53.5 807.6 53.5 813 53.2 C818.4 53 821.5 52.6 825.5 52 C829.5 51.4 834.2 50 836.8 49.5 C839.2 49 839.9 49.1 840.5 49 L840.5 39 Z"/>
</defs>
<g clip-path="url(#clip_b)" stroke="none">
<use href="#b0" fill="#9fe0d8"/>
<use href="#b1" fill="#abe38a"/>
<use href="#b2" fill="#f4dc35"/>
<use href="#b3" fill="#5186c1"/>
<use href="#b4" fill="#4552ab"/>
<use href="#b5" fill="#4552ab"/>
</g>
<mask id="m_clip_b" maskUnits="userSpaceOnUse" x="0" y="0" width="1382" height="1016"><rect x="0" y="0" width="1382" height="1016" fill="#fff"/><rect x="537.7" y="75.3" width="30.6" height="11.2" fill="#000" transform="rotate(8 553 87)"/><rect x="545.7" y="86.8" width="30.6" height="11.2" fill="#000"/><rect x="697.2" y="113.5" width="30.6" height="11.2" fill="#000" transform="rotate(15 712.5 125.2)"/><rect x="788.9" y="46.8" width="30.6" height="11.2" fill="#000"/><rect x="587.7" y="318.8" width="30.6" height="11.2" fill="#000"/><rect x="534.7" y="242.3" width="30.6" height="11.2" fill="#000" transform="rotate(-78 550 254)"/></mask>
<g clip-path="url(#clip_b)"><g mask="url(#m_clip_b)" fill="none" stroke="#000" stroke-opacity="0.85" stroke-width="1.3" stroke-linejoin="round">
<use href="#b0"/>
<use href="#b1"/>
<use href="#b2"/>
<use href="#b3"/>
<use href="#b4"/>
<use href="#b5"/>
</g></g>
<path d="M522.5 49 L522.5 157.5 L550 297 L625.5 398.5 L770.5 362 L810.5 234 L828 184 L857 116.5 L857 49 Z" fill="none" stroke="#111" stroke-width="1.2" stroke-linejoin="round"/>
<clipPath id="lc_clip_b"><path d="M507.5 34 L507.5 157.5 L550 297 L625.5 398.5 L770.5 362 L810.5 234 L828 184 L872 116.5 L872 34 Z"/></clipPath>
<g clip-path="url(#lc_clip_b)">
<text x="553" y="87" font-size="17" text-anchor="middle" fill="#1a1a1a" transform="rotate(8 553 87)" stroke="#1a1a1a" stroke-width="0.3">0.5</text>
<text x="561" y="98.5" font-size="17" text-anchor="middle" fill="#1a1a1a" stroke="#1a1a1a" stroke-width="0.3">0.4</text>
<text x="712.5" y="125.2" font-size="17" text-anchor="middle" fill="#1a1a1a" transform="rotate(15 712.5 125.2)" stroke="#1a1a1a" stroke-width="0.3">0.3</text>
<text x="804.2" y="58.5" font-size="17" text-anchor="middle" fill="#1a1a1a" stroke="#1a1a1a" stroke-width="0.3">0.2</text>
<text x="603" y="330.5" font-size="17" text-anchor="middle" fill="#1a1a1a" stroke="#1a1a1a" stroke-width="0.3">0.2</text>
<text x="550" y="254" font-size="17" text-anchor="middle" fill="#1a1a1a" transform="rotate(-78 550 254)" stroke="#1a1a1a" stroke-width="0.3">0.3</text>
</g>
<g stroke="#262626" stroke-width="1.6" fill="none">
<rect x="522.5" y="49" width="334.5" height="432.3"/>
<path d="M631.2 481.3 v-4.5 M631.2 49 v4.5 M740 481.3 v-4.5 M740 49 v4.5 M848.8 481.3 v-4.5 M848.8 49 v4.5 M522.5 157.1 h4.5 M857 157.1 h-4.5 M522.5 265.1 h4.5 M857 265.1 h-4.5 M522.5 373.2 h4.5 M857 373.2 h-4.5 " stroke-width="1"/>
</g>
<text x="512.5" y="58.2" font-size="25" text-anchor="end" fill="#262626">0</text>
<text x="512.5" y="166.3" font-size="25" text-anchor="end" fill="#262626">100</text>
<text x="512.5" y="274.3" font-size="25" text-anchor="end" fill="#262626">200</text>
<text x="512.5" y="382.4" font-size="25" text-anchor="end" fill="#262626">300</text>
<text x="512.5" y="490.5" font-size="25" text-anchor="end" fill="#262626">400</text>
<text x="522.5" y="517.8" font-size="25" text-anchor="middle" fill="#262626">0</text>
<text x="631.2" y="517.8" font-size="25" text-anchor="middle" fill="#262626">1</text>
<text x="740" y="517.8" font-size="25" text-anchor="middle" fill="#262626">2</text>
<text x="848.8" y="517.8" font-size="25" text-anchor="middle" fill="#262626">3</text>
<text x="690" y="552.4" font-size="25.5" text-anchor="middle" fill="#262626">Distance (km)</text>
<text x="459.5" y="264" font-size="25.5" text-anchor="middle" fill="#262626" transform="rotate(-90 459.5 264)">Depth (meter)</text>
<text x="434.7" y="28.2" font-size="32" text-anchor="start" fill="#111">(b)</text>
<text x="531.8" y="40.6" font-size="22.3" text-anchor="start" fill="#111" transform="rotate(-90 531.8 40.6)">M1</text>
<text x="559" y="40.6" font-size="22.3" text-anchor="start" fill="#111" transform="rotate(-90 559 40.6)">M2</text>
<text x="635.1" y="40.6" font-size="22.3" text-anchor="start" fill="#111" transform="rotate(-90 635.1 40.6)">Kb3</text>
<text x="779.8" y="40.6" font-size="22.3" text-anchor="start" fill="#111" transform="rotate(-90 779.8 40.6)">M3</text>
<text x="838.5" y="40.6" font-size="22.3" text-anchor="start" fill="#111" transform="rotate(-90 838.5 40.6)">M4</text>
<rect x="533.8" y="409.8" width="130.5" height="31" fill="#fff" stroke="#3c3c3c" stroke-width="1.4"/>
<text x="546.5" y="435" font-size="25" text-anchor="start" fill="#111">May 2007</text>
<rect x="674.8" y="409.8" width="173.8" height="31" fill="#fff" stroke="#3c3c3c" stroke-width="1.4"/>
<text x="691" y="434.4" font-size="25" text-anchor="start" fill="#111">Fluorescence</text>
<rect x="533.8" y="445.8" width="314.8" height="30.2" fill="#fff" stroke="#3c3c3c" stroke-width="1.4"/>
<text x="550.3" y="470.6" font-size="25" text-anchor="start" fill="#111" word-spacing="1.3">Transect A, Kongsfjorden</text>
<rect x="992.3" y="49.0" width="344.20000000000005" height="432.3" fill="#bdbbbc"/>
<path d="M992.3 49 L992.3 92.8 L1028.5 266 L1113.5 408.5 L1244.8 370.2 L1311.6 193.6 L1336.5 130.8 L1336.5 49 Z" fill="#4552ab" stroke="none" stroke-width="1.3" stroke-linejoin="round"/>
<clipPath id="clip_c"><path d="M992.3 49 L992.3 92.8 L1028.5 266 L1113.5 408.5 L1244.8 370.2 L1311.6 193.6 L1336.5 130.8 L1336.5 49 Z"/></clipPath>
<defs>
<path id="c0" d="M978 206.5 L1018 206.5 C1019.2 205.5 1022.8 201.2 1025.5 200.2 C1028.2 199.3 1031.8 200.2 1034.2 201 C1036.8 201.8 1039.2 203.7 1040.5 205.2 C1041.8 206.8 1039.7 208.8 1041.8 210.2 C1043.8 211.7 1048.2 213 1053 214 C1057.8 215 1065.1 215.7 1070.5 216.5 C1075.9 217.3 1082.2 217.8 1085.5 219 C1088.8 220.2 1089.6 221.5 1090.5 224 C1091.4 226.5 1090.2 231.3 1091 234 C1091.8 236.7 1092.7 238.6 1095.5 240.2 C1098.3 241.9 1100.9 243 1108 244 C1115.1 245 1126.8 245.5 1138 246 C1149.2 246.5 1165.1 246.7 1175.5 247 C1185.9 247.3 1194 247.3 1200.5 247.8 C1207 248.2 1212.2 248.7 1214.2 249.5 C1216.3 250.3 1215.3 251.7 1213 252.8 C1210.7 253.8 1204.7 254.8 1200.5 256 C1196.3 257.2 1190.5 258.9 1188 260.2 C1185.5 261.6 1184.7 262.5 1185.5 264 C1186.3 265.5 1188.4 267.5 1193 269 C1197.6 270.5 1205.5 271.9 1213 272.8 C1220.5 273.6 1230.5 274.2 1238 274 C1245.5 273.8 1253 272.8 1258 271.5 C1263 270.2 1266.8 268.2 1268 266.5 C1269.2 264.8 1267.6 263.2 1265.5 261.5 C1263.4 259.8 1258.2 258.2 1255.5 256.5 C1252.8 254.8 1250.1 253.2 1249.2 251.5 C1248.4 249.8 1249.2 248.2 1250.5 246.5 C1251.8 244.8 1254.2 243.8 1256.8 241.5 C1259.2 239.2 1262.4 235.7 1265.5 232.8 C1268.6 229.8 1272.6 226.6 1275.5 224 C1278.4 221.4 1279.2 219 1283 217 C1286.8 215 1294.9 213.8 1298 212 C1301.1 210.2 1302.2 208 1301.8 206.5 C1301.3 205 1297.6 204 1295.5 202.8 C1293.4 201.5 1289.9 200.5 1289.2 199 C1288.6 197.5 1289.5 195.2 1291.8 194 C1294 192.8 1299 192.1 1303 191.5 C1307 190.9 1313.8 190.5 1316 190.2 L1356 190.2 L1376.5 29 L952.3 29 Z"/>
<path id="c1" d="M973 186 L1013 186 C1017.2 185.7 1029.7 184.1 1038 184 C1046.3 183.9 1053.4 184.6 1063 185.2 C1072.6 185.9 1086.8 186.6 1095.5 187.8 C1104.2 188.9 1108.4 192.2 1115.5 192 C1122.6 191.8 1130.1 188.9 1138 186.5 C1145.9 184.1 1156.3 180 1163 177.8 C1169.7 175.5 1172.2 174 1178 172.8 C1183.8 171.5 1192.2 171.3 1198 170.2 C1203.8 169.2 1209.5 168.2 1213 166.5 C1216.5 164.8 1219.7 162.1 1219.2 160.2 C1218.8 158.4 1214 156.7 1210.5 155.2 C1207 153.8 1199.7 153 1198 151.5 C1196.3 150 1198 148 1200.5 146.5 C1203 145 1206.8 143.8 1213 142.8 C1219.2 141.7 1229.7 141 1238 140.2 C1246.3 139.5 1255.9 139.3 1263 138.5 C1270.1 137.7 1274.2 136.6 1280.5 135.2 C1286.8 133.9 1294.2 131.4 1300.5 130.2 C1306.8 129.1 1312 128.9 1318 128.5 C1324 128.1 1333.4 127.9 1336.5 127.8 L1376.5 127.8 L1376.5 29 L952.3 29 Z"/>
<path id="c2" d="M958 124.5 L998 112.5 L1008 106.5 L1019.2 102.1 L1029.2 98.6 L1038 100.9 L1038 100.9 C1040.1 101.3 1045.9 102 1050.5 103.4 C1055.1 104.7 1060.3 107.1 1065.5 109 C1070.7 110.9 1075.9 113.1 1081.8 114.6 C1087.6 116.2 1095.3 117.3 1100.5 118.4 C1105.7 119.5 1108.8 121 1113 121.2 C1117.2 121.5 1120.5 120.4 1125.5 120 C1130.5 119.6 1136.8 119.4 1143 119 C1149.2 118.6 1155.5 118.2 1163 117.8 C1170.5 117.3 1179.7 116.9 1188 116.5 C1196.3 116.1 1206.5 115.9 1213 115.2 C1219.5 114.6 1224.9 113.7 1226.8 112.8 C1228.6 111.8 1222.4 110.8 1224.2 109.5 C1226.1 108.2 1231.5 106.4 1238 105.2 C1244.5 104.1 1254.7 103.6 1263 102.8 C1271.3 101.9 1279.7 100.8 1288 100.2 C1296.3 99.7 1304.9 99.2 1313 99.5 C1321.1 99.8 1332.6 101.6 1336.5 102 L1376.5 102 L1376.5 29 L952.3 29 Z"/>
<path id="c3" d="M952.3 46 L992.4 49.6 C995.8 49.7 1005.4 50 1013 50.2 C1020.6 50.5 1030.5 50.8 1038 51.2 C1045.5 51.7 1051.8 52.1 1058 52.8 C1064.2 53.4 1070.7 54.3 1075.5 55.2 C1080.3 56.2 1084.5 57.4 1086.8 58.4 C1089 59.3 1089.7 59.9 1089.2 60.9 C1088.8 61.8 1086.5 63.1 1084.2 64 C1082 64.9 1077.5 65.6 1075.5 66.5 C1073.5 67.4 1073.3 68.3 1072.4 69.6 C1071.4 71 1069.8 73 1069.9 74.6 C1070 76.3 1071.2 78.2 1073 79.6 C1074.8 81.1 1077 82.4 1080.5 83.4 C1084 84.4 1088.8 85.1 1094.2 85.5 C1099.7 85.9 1105.7 86 1113 85.9 C1120.3 85.7 1129.7 85.4 1138 84.6 C1146.3 83.9 1154.7 82.6 1163 81.5 C1171.3 80.4 1179.7 79 1188 77.8 C1196.3 76.5 1204.7 75 1213 74 C1221.3 73 1231.1 72.1 1238 72 C1244.9 71.9 1248.8 72.5 1254.2 73.5 C1259.7 74.5 1265.7 76.2 1270.5 77.8 C1275.3 79.3 1278 81.3 1283 82.8 C1288 84.2 1295.1 86.1 1300.5 86.5 C1305.9 86.9 1312 86.5 1315.5 85.2 C1319 84 1320.3 81.1 1321.8 79 C1323.2 76.9 1321.8 74.4 1324.2 72.8 C1326.7 71.1 1334.5 69.6 1336.5 69 L1376.5 69 L1376.5 29 L952.3 29 Z"/>
<path id="c4" d="M1145.5 39 L1140.5 49 C1138.4 49.3 1132.2 49.9 1128 50.8 C1123.8 51.6 1113.8 53.1 1115.5 54 C1117.2 54.9 1130.1 55.5 1138 56 C1145.9 56.5 1154.7 56.7 1163 57 C1171.3 57.3 1179.7 57.3 1188 57.8 C1196.3 58.2 1205.9 59 1213 59.5 C1220.1 60 1225.5 60.8 1230.5 61 C1235.5 61.2 1237.6 61.4 1243 61 C1248.4 60.6 1256.3 59.6 1263 58.5 C1269.7 57.4 1277.5 56.1 1283 54.5 C1288.5 52.9 1293.8 49.9 1296 49 L1301 39 Z"/>
<path id="c5" d="M1319.5 39 L1322.5 49 C1323.2 49.8 1324.4 52.8 1326.8 54 C1329.1 55.2 1334.9 56.1 1336.5 56.5 L1376.5 56.5 L1376.5 39 Z"/>
<path id="c6" d="M952.3 55 L992.4 55 C995.8 54.8 1006.4 54.1 1013 54 C1019.6 53.9 1025.9 54.2 1031.8 54.6 C1037.6 55 1043.7 55.7 1048 56.5 C1052.3 57.3 1056.5 58.8 1057.4 59.6 C1058.2 60.5 1055.4 60.8 1053 61.5 C1050.6 62.2 1047 62.4 1043 64 C1039 65.6 1033.6 69 1029.2 70.9 C1024.9 72.8 1020.5 74.1 1016.8 75.2 C1013 76.4 1010.3 77 1006.8 77.8 C1003.2 78.5 997.9 79.2 995.5 79.6 C993.1 80 992.9 80.1 992.4 80.2 L952.3 80.2 Z"/>
<path id="c7" d="M952.3 60.2 L992.4 60.2 C993.9 60.2 998.6 60 1001.8 60 C1004.9 60 1010.3 59.9 1011.1 60.2 C1012 60.6 1008.3 61.6 1006.8 62.1 C1005.2 62.6 1002.8 62.9 1001.8 63.4 C1000.7 63.9 1000.2 64.5 1000.5 65.2 C1000.8 66 1002.9 67 1003.6 67.8 C1004.4 68.5 1005.4 68.9 1004.9 69.6 C1004.4 70.4 1002.1 71.4 1000.5 72.1 C998.9 72.9 996.9 73.6 995.5 74 C994.1 74.4 992.9 74.5 992.4 74.6 L952.3 74.6 Z"/>
<path id="c8" d="M1015.2 311.8 L1055.2 311.8 C1057.5 311.6 1064.8 310.6 1069 311 C1073.2 311.4 1077.5 312.7 1080.2 314 C1083 315.3 1084.6 316.7 1085.2 319 C1085.9 321.3 1083.6 325 1084 327.8 C1084.4 330.5 1085.9 332.8 1087.8 335.2 C1089.6 337.8 1094.8 340.7 1095.2 342.8 C1095.7 344.8 1090 346.3 1090.2 347.8 C1090.5 349.2 1095.2 350 1096.5 351.5 C1097.8 353 1098.8 355 1097.8 356.5 C1096.7 358 1092 358.9 1090.2 360.2 C1088.5 361.6 1087.5 363.8 1087 364.5 L1027 364.5 Z"/>
<path id="c9" d="M1071 371 L1091 371 L1097.8 371.5 L1095.2 375.5 L1075.2 375.5 Z"/>
<path id="c10" d="M1211.5 412.8 L1201.5 382.8 C1199.4 382.5 1192.8 382.3 1189 381.5 C1185.2 380.7 1183 379.3 1179 377.8 C1175 376.2 1164.8 373.7 1165.2 372.2 C1165.7 370.8 1174.6 370.2 1181.5 369 C1188.4 367.8 1198.2 366.3 1206.5 365.2 C1214.8 364.2 1224.6 363.3 1231.5 362.8 C1238.4 362.2 1245 362.1 1247.8 362 L1287.8 362 L1287.8 422 Z"/>
<path id="c11" d="M1292 327 L1262 327 C1261.4 327.4 1259.3 328.4 1258.5 329.5 C1257.7 330.6 1257 332.2 1257 333.5 C1257 334.8 1258.2 336.4 1258.5 337 L1288.5 337 Z"/>
</defs>
<g clip-path="url(#clip_c)" stroke="none">
<use href="#c0" fill="#5186c1"/>
<use href="#c1" fill="#9fe0d8"/>
<use href="#c2" fill="#abe38a"/>
<use href="#c3" fill="#9fe0d8"/>
<use href="#c4" fill="#5186c1"/>
<use href="#c5" fill="#5186c1"/>
<use href="#c6" fill="#f4dc35"/>
<use href="#c7" fill="#f07f2e"/>
<use href="#c8" fill="#4a39a3"/>
<use href="#c9" fill="#4a39a3"/>
<use href="#c10" fill="#4a39a3"/>
<use href="#c11" fill="#4a39a3"/>
</g>
<mask id="m_clip_c" maskUnits="userSpaceOnUse" x="0" y="0" width="1382" height="1016"><rect x="0" y="0" width="1382" height="1016" fill="#fff"/><rect x="1013.9" y="62" width="30.6" height="11.2" fill="#000" transform="rotate(-17 1029.2 73.8)"/><rect x="1049.6" y="104.1" width="30.6" height="11.2" fill="#000" transform="rotate(15 1064.9 115.9)"/><rect x="1228.2" y="54.8" width="30.6" height="11.2" fill="#000" transform="rotate(3 1243.5 66.5)"/><rect x="1238.9" y="70.3" width="30.6" height="11.2" fill="#000" transform="rotate(10 1254.2 82)"/><rect x="1062.7" y="181.5" width="30.6" height="11.2" fill="#000" transform="rotate(3 1078 193.2)"/><rect x="1253.9" y="222.3" width="30.6" height="11.2" fill="#000" transform="rotate(-45 1269.2 234)"/><rect x="1171.7" y="375.3" width="30.6" height="11.2" fill="#000" transform="rotate(-15 1187 387)"/></mask>
<g clip-path="url(#clip_c)"><g mask="url(#m_clip_c)" fill="none" stroke="#000" stroke-opacity="0.85" stroke-width="1.3" stroke-linejoin="round">
<use href="#c0"/>
<use href="#c1"/>
<use href="#c2"/>
<use href="#c3"/>
<use href="#c4"/>
<use href="#c5"/>
<use href="#c6"/>
<use href="#c7"/>
<use href="#c8"/>
<use href="#c9"/>
<use href="#c10"/>
<use href="#c11"/>
</g></g>
<path d="M992.3 49 L992.3 92.8 L1028.5 266 L1113.5 408.5 L1244.8 370.2 L1311.6 193.6 L1336.5 130.8 L1336.5 49 Z" fill="none" stroke="#111" stroke-width="1.2" stroke-linejoin="round"/>
<clipPath id="lc_clip_c"><path d="M977.3 34 L977.3 92.8 L1028.5 266 L1113.5 408.5 L1244.8 370.2 L1311.6 193.6 L1351.5 130.8 L1351.5 34 Z"/></clipPath>
<g clip-path="url(#lc_clip_c)">
<text x="1029.2" y="73.8" font-size="17" text-anchor="middle" fill="#1a1a1a" transform="rotate(-17 1029.2 73.8)" stroke="#1a1a1a" stroke-width="0.3">0.5</text>
<text x="1064.9" y="115.9" font-size="17" text-anchor="middle" fill="#1a1a1a" transform="rotate(15 1064.9 115.9)" stroke="#1a1a1a" stroke-width="0.3">0.4</text>
<text x="1243.5" y="66.5" font-size="17" text-anchor="middle" fill="#1a1a1a" transform="rotate(3 1243.5 66.5)" stroke="#1a1a1a" stroke-width="0.3">0.3</text>
<text x="1254.2" y="82" font-size="17" text-anchor="middle" fill="#1a1a1a" transform="rotate(10 1254.2 82)" stroke="#1a1a1a" stroke-width="0.3">0.4</text>
<text x="1078" y="193.2" font-size="17" text-anchor="middle" fill="#1a1a1a" transform="rotate(3 1078 193.2)" stroke="#1a1a1a" stroke-width="0.3">0.3</text>
<text x="1269.2" y="234" font-size="17" text-anchor="middle" fill="#1a1a1a" transform="rotate(-45 1269.2 234)" stroke="#1a1a1a" stroke-width="0.3">0.2</text>
<text x="1187" y="387" font-size="17" text-anchor="middle" fill="#1a1a1a" transform="rotate(-15 1187 387)" stroke="#1a1a1a" stroke-width="0.3">0.1</text>
</g>
<g stroke="#262626" stroke-width="1.6" fill="none">
<rect x="992.3" y="49" width="344.2" height="432.3"/>
<path d="M1101.1 481.3 v-4.5 M1101.1 49 v4.5 M1209.9 481.3 v-4.5 M1209.9 49 v4.5 M1318.7 481.3 v-4.5 M1318.7 49 v4.5 M992.3 157.1 h4.5 M1336.5 157.1 h-4.5 M992.3 265.1 h4.5 M1336.5 265.1 h-4.5 M992.3 373.2 h4.5 M1336.5 373.2 h-4.5 " stroke-width="1"/>
</g>
<text x="982.3" y="58.2" font-size="25" text-anchor="end" fill="#262626">0</text>
<text x="982.3" y="166.3" font-size="25" text-anchor="end" fill="#262626">100</text>
<text x="982.3" y="274.3" font-size="25" text-anchor="end" fill="#262626">200</text>
<text x="982.3" y="382.4" font-size="25" text-anchor="end" fill="#262626">300</text>
<text x="982.3" y="490.5" font-size="25" text-anchor="end" fill="#262626">400</text>
<text x="992.3" y="517.8" font-size="25" text-anchor="middle" fill="#262626">0</text>
<text x="1101.1" y="517.8" font-size="25" text-anchor="middle" fill="#262626">1</text>
<text x="1209.9" y="517.8" font-size="25" text-anchor="middle" fill="#262626">2</text>
<text x="1318.7" y="517.8" font-size="25" text-anchor="middle" fill="#262626">3</text>
<text x="1164.6" y="552.4" font-size="25.5" text-anchor="middle" fill="#262626">Distance (km)</text>
<text x="929.5" y="264" font-size="25.5" text-anchor="middle" fill="#262626" transform="rotate(-90 929.5 264)">Depth (meter)</text>
<text x="904.3" y="28.2" font-size="32" text-anchor="start" fill="#111">(c)</text>
<text x="1000.1" y="40.2" font-size="22.3" text-anchor="start" fill="#111" transform="rotate(-90 1000.1 40.2)">M1</text>
<text x="1036" y="40.2" font-size="22.3" text-anchor="start" fill="#111" transform="rotate(-90 1036 40.2)">M2</text>
<text x="1123" y="40.2" font-size="22.3" text-anchor="start" fill="#111" transform="rotate(-90 1123 40.2)">Kb3</text>
<text x="1253.6" y="40.2" font-size="22.3" text-anchor="start" fill="#111" transform="rotate(-90 1253.6 40.2)">M3</text>
<text x="1318.9" y="40.2" font-size="22.3" text-anchor="start" fill="#111" transform="rotate(-90 1318.9 40.2)">M4</text>
<rect x="1003.2" y="410.2" width="130.2" height="30.5" fill="#fff" stroke="#3c3c3c" stroke-width="1.4"/>
<text x="1017" y="435" font-size="25" text-anchor="start" fill="#111">May 2014</text>
<rect x="1144" y="410.2" width="174.5" height="30.5" fill="#fff" stroke="#3c3c3c" stroke-width="1.4"/>
<text x="1161.5" y="434.4" font-size="25" text-anchor="start" fill="#111">Fluorescence</text>
<rect x="1003.2" y="445.8" width="315.2" height="30.2" fill="#fff" stroke="#3c3c3c" stroke-width="1.4"/>
<text x="1020.5" y="470.6" font-size="25" text-anchor="start" fill="#111" word-spacing="1.3">Transect A, Kongsfjorden</text>
<rect x="113.5" y="651.0" width="626.8" height="285.0" fill="#bdbbbc"/>
<path d="M113.5 651 L113.5 711.5 L308 824 L452 868.5 L563.8 888 L740.3 789 L740.3 651 Z" fill="#4939a2" stroke="none" stroke-width="1.3" stroke-linejoin="round"/>
<clipPath id="clip_d"><path d="M113.5 651 L113.5 711.5 L308 824 L452 868.5 L563.8 888 L740.3 789 L740.3 651 Z"/></clipPath>
<defs>
<path id="d0" d="M73.5 829.8 L186.8 829.8 L238.8 795.8 L246.8 789.8 C247 788.5 247.7 784.2 248.5 782.2 C249.3 780.3 250.2 779.2 251.8 778 C253.3 776.8 252.8 775.9 258 774.8 C263.2 773.6 274.7 772 283 771 C291.3 770 299.7 768.5 308 768.5 C316.3 768.5 324.7 770 333 771 C341.3 772 351.8 773.7 358 774.8 C364.2 775.8 367.2 775.8 370.5 777.2 C373.8 778.7 375.5 781.2 378 783.5 C380.5 785.8 383.4 788.5 385.5 791 C387.6 793.5 386.8 796.2 390.5 798.5 C394.2 800.8 403 802.9 408 804.8 C413 806.6 417.6 807.7 420.5 809.8 C423.4 811.8 422.7 815.6 425.5 817.2 C428.3 818.9 432.9 818.9 437.5 819.8 C442.1 820.6 446.8 822.1 453 822.2 C459.2 822.4 467.2 821.2 475 820.5 C482.8 819.8 491.7 818.8 500 818 C508.3 817.2 516.7 816.4 525 816 C533.3 815.6 542.5 815.8 550 815.5 C557.5 815.2 564.2 815.2 570 814 C575.8 812.8 580 809.8 585 808.5 C590 807.2 595.4 807 600 806 C604.6 805 608.3 803.1 612.5 802.2 C616.7 801.4 618.8 801.4 625 801 C631.2 800.6 641.7 800.1 650 799.8 C658.3 799.4 666.7 799.3 675 799 C683.3 798.7 692.1 798.3 700 798 C707.9 797.7 717.1 797.6 722.5 797.2 C727.9 796.9 730.8 796.2 732.5 796 L780.3 786 L780.3 631 L73.5 631 Z"/>
<path id="d1" d="M305.5 761 C305.5 760.5 306.8 759.5 307.5 759.5 C308.2 759.5 309.5 760.5 309.5 761 C309.5 761.5 308.2 762.8 307.5 762.8 C306.8 762.8 305.5 761.5 305.5 761 Z"/>
<path id="d2" d="M85.5 734 L145.5 734 C147.6 733.6 151.8 732.5 158 731.5 C164.2 730.5 170.5 729.3 183 728 C195.5 726.7 216.3 724.9 233 723.5 C249.7 722.1 266.3 721.1 283 719.8 C299.7 718.4 316.3 717 333 715.5 C349.7 714 368.4 712.2 383 711 C397.6 709.8 408.9 708.7 420.5 708 C432.1 707.3 445.5 706.3 452.5 706.8 C459.5 707.2 458.8 708.8 462.5 710.5 C466.2 712.2 471.7 715.5 475 717.2 C478.3 719 481.7 719.5 482.5 721 C483.3 722.5 482.1 724.5 480 726 C477.9 727.5 475 728.7 470 729.8 C465 730.8 457.5 731.5 450 732.2 C442.5 733 432.3 733.2 425 734 C417.7 734.8 408.3 735.9 406.2 737.2 C404.2 738.6 410.8 740.4 412.5 742.2 C414.2 744.1 414.2 746.5 416.2 748.5 C418.3 750.5 421.5 752.7 425 754 C428.5 755.3 431.2 755.5 437.5 756.5 C443.8 757.5 453.3 758.9 462.5 759.8 C471.7 760.6 481.7 761.2 492.5 761.8 C503.3 762.2 517.9 762 527.5 762.8 C537.1 763.5 542.1 764.8 550 766 C557.9 767.2 566.7 769 575 769.8 C583.3 770.5 587.5 770.2 600 770.2 C612.5 770.2 626.7 769.9 650 769.8 C673.3 769.6 725 769.3 740 769.2 L780.3 769.2 L780.3 631 L73.5 631 Z"/>
<path id="d3" d="M556.2 773.5 C556.2 772.6 564.4 771.2 570 770.8 C575.6 770.3 585 770.6 590 771 C595 771.4 600 772.7 600 773.2 C600 773.8 595 774 590 774.5 C585 775 575.6 776.2 570 776 C564.4 775.8 556.2 774.4 556.2 773.5 Z"/>
<path id="d4" d="M53.6 704.5 L113.6 704.5 C116.9 704.4 127.7 704 133 703.8 C138.3 703.5 138.8 703.5 145.5 703.2 C152.2 703 164.7 702.9 173 702.5 C181.3 702.1 187.6 701.4 195.5 701 C203.4 700.6 212.2 700.3 220.5 700 C228.8 699.7 235.6 699.5 245.5 699.1 C255.4 698.8 269.6 698.7 280 697.9 C290.4 697 295 694.9 308 694 C321 693.1 341.3 693 358 692.8 C374.7 692.5 396.8 692.5 408 692.2 C419.2 692 418 691.3 425 691 C432 690.7 441.7 690.4 450 690.5 C458.3 690.6 467.9 691.1 475 691.5 C482.1 691.9 488.3 692 492.5 693 C496.7 694 499 695.7 500 697.2 C501 698.8 497.5 700.8 498.8 702.2 C500 703.7 506.7 704.5 507.5 706 C508.3 707.5 502.9 709.5 503.8 711 C504.6 712.5 508.1 713.5 512.5 714.8 C516.9 716 525.8 717.5 530 718.5 C534.2 719.5 537.1 719.8 537.5 721 C537.9 722.2 534.2 724.3 532.5 726 C530.8 727.7 526.2 729.5 527.5 731 C528.8 732.5 534.2 733.5 540 734.8 C545.8 736 554.6 737.5 562.5 738.5 C570.4 739.5 580.4 740 587.5 740.5 C594.6 741 597.9 741.5 605 741.8 C612.1 742 622.5 742 630 742.2 C637.5 742.5 642.5 742.9 650 743.5 C657.5 744.1 666.7 745.2 675 746 C683.3 746.8 691.7 747.6 700 748.5 C708.3 749.4 718.3 750.6 725 751.5 C731.7 752.4 737.5 753.6 740 754 L780.3 754 L780.3 631 L73.5 631 Z"/>
<path id="d5" d="M53.6 689.1 L113.6 689.1 C116.9 689.2 125.6 689.4 133 689.5 C140.4 689.6 149.7 689.8 158 690 C166.3 690.2 175.3 690.3 183 690.5 C190.7 690.7 195.9 690.9 204.2 691 C212.6 691.1 220.4 691.4 233 691.2 C245.6 691.1 267.5 690.6 280 690.4 C292.5 690.1 295 690.1 308 689.8 C321 689.4 342.7 688.9 358 688.5 C373.3 688.1 386.3 687.6 400 687.2 C413.7 686.9 426 687.2 440 686.5 C454 685.8 469.3 683.8 484 683 C498.7 682.2 515.5 682.2 528 682 C540.5 681.8 547 682 559 682 C571 682 586.5 681.9 600 682.2 C613.5 682.6 628.2 683.5 640 684 C651.8 684.5 671 685 670.8 685.5 C670.5 686 649.2 686.4 638.8 686.8 C628.2 687.1 618 687.3 607.8 687.5 C597.5 687.7 584.4 687.8 577 688 C569.6 688.2 566.4 688.3 563.5 689 C560.6 689.7 560.6 690.5 559.5 692 C558.4 693.5 556.9 696.1 557 697.8 C557.1 699.4 556.9 700.8 560.2 701.8 C563.6 702.7 571.3 703 577 703.5 C582.7 704 587.7 704.2 594.5 704.5 C601.3 704.8 617.8 705.1 617.8 705.5 C617.8 705.9 602 706.7 594.5 707 C587 707.3 579.1 707 572.5 707.2 C565.9 707.5 559.5 708 554.8 708.5 C550 709 545.8 709.6 543.8 710.5 C541.7 711.4 541.8 713 542.5 714 C543.2 715 544.8 715.6 548.2 716.2 C551.8 716.9 555.8 717.4 563.5 717.8 C571.2 718.1 578.3 718.4 594.5 718.5 C610.7 718.6 636.5 718.5 660.8 718.5 C685 718.5 726.8 718.5 740 718.5 L780.3 718.5 L780.3 664 L740 664 C738.1 663.3 732.5 660.9 728.8 659.8 C725 658.6 722.3 658.1 717.5 657.2 C712.7 656.4 707.1 655.6 700 654.8 C692.9 653.9 681.2 653 675 652.2 C668.8 651.5 664.6 650.8 662.5 650.5 L656.5 631 L73.5 631 Z"/>
<path id="d6" d="M760.3 696.2 L740 696.2 C737.5 696.3 732.3 696.6 725 696.8 C717.7 696.9 696.2 696.9 696.2 697.2 C696.2 697.6 717.7 698.7 725 699 C732.3 699.3 737.5 699 740 699 L760.3 699 Z"/>
<path id="d7" d="M53.6 686 L113.6 686 C120.6 686.1 143.9 686.5 155.5 686.6 C167.1 686.8 173 686.9 183 687 C193 687.1 205.1 687.2 215.5 687.2 C225.9 687.3 234.8 687.4 245.5 687.4 C256.2 687.3 269.6 687 280 687 C290.4 687 295 687.4 308 687.2 C321 687.1 345.5 686.5 358 686 C370.5 685.5 376 684.8 383 684 C390 683.2 390.5 682.1 400 681 C409.5 679.9 426 678.5 440 677.5 C454 676.5 469.3 676 484 675.2 C498.7 674.5 513.2 673.8 528 672.8 C542.8 671.7 557.8 670.2 572.5 668.8 C587.2 667.3 604.4 665.5 616.5 664.2 C628.6 663 638.2 661.8 645 661 C651.8 660.2 658.5 660.1 657.5 659.5 C656.5 658.9 645.6 658 638.8 657.2 C631.9 656.5 623.1 655.8 616.5 655 C609.9 654.2 603 653.5 599 652.8 C595 652 593.6 650.9 592.5 650.5 L584.5 631 L73.5 631 Z"/>
<path id="d8" d="M53.6 682.9 L113.6 682.9 C116.9 682.9 125.6 683 133 683.1 C140.4 683.2 149.7 683.3 158 683.5 C166.3 683.7 174.7 683.9 183 684.1 C191.3 684.3 196.3 684.4 208 684.8 C219.7 685.1 241 686 253 686.2 C265 686.5 270.8 686.6 280 686.2 C289.2 685.9 299.2 684.5 308 684 C316.8 683.5 324.7 683.9 333 683.5 C341.3 683.1 351.8 682.4 358 681.8 C364.2 681.1 366.3 680.5 370.5 679.8 C374.7 679 378.1 678.2 383 677.2 C387.9 676.3 390.5 675.2 400 674 C409.5 672.8 426 671.1 440 669.8 C454 668.4 469.3 667.3 484 666 C498.7 664.7 515.3 663 528 662 C540.7 661 551.7 660.3 560 659.8 C568.3 659.2 579.6 659.2 578 658.5 C576.4 657.8 560.4 656.5 550.2 655.5 C540.1 654.5 527.9 653.5 517.2 652.8 C506.6 652 491.4 651.1 486.2 650.8 L478.2 631 L73.5 631 Z"/>
<path id="d9" d="M113.6 667.2 C116.9 667.3 125.6 667.3 133 667.5 C140.4 667.7 147.2 668.2 158 668.5 C168.8 668.8 187.6 669.2 198 669.5 C208.4 669.8 212.6 669.9 220.5 670.4 C228.4 670.8 238.2 671.6 245.5 672.2 C252.8 672.9 258.5 673.7 264.2 674.5 C270 675.3 274.8 676.1 280 677.2 C285.2 678.4 290.8 680.7 295.5 681.5 C300.2 682.3 304.7 682.5 308 682.2 C311.3 682 313.4 680.6 315.5 679.8 C317.6 678.9 317.6 678.1 320.5 677.2 C323.4 676.4 326.8 675.6 333 674.8 C339.2 673.9 349.7 673 358 672.2 C366.3 671.5 376 671.4 383 670.5 C390 669.6 390.5 668.2 400 667 C409.5 665.8 427.8 664.2 440 663.2 C452.2 662.2 464.2 661.6 473 661 C481.8 660.4 488 659.9 492.5 659.5 C497 659.1 499.8 659.2 500 658.5 C500.2 657.8 496.4 656.3 493.8 655.5 C491.1 654.7 489.2 654 484 653.5 C478.8 653 472.3 652.9 462.5 652.8 C452.7 652.6 431.2 652.8 425 652.8 L73.5 653.8 L73.5 667.2 Z"/>
</defs>
<g clip-path="url(#clip_d)" stroke="none">
<use href="#d0" fill="#4653ab"/>
<use href="#d1" fill="#4939a2"/>
<use href="#d2" fill="#4562b4"/>
<use href="#d3" fill="#4562b4"/>
<use href="#d4" fill="#80cee0"/>
<use href="#d5" fill="#a0e2b0"/>
<use href="#d6" fill="#80cee0"/>
<use href="#d7" fill="#efe33f"/>
<use href="#d8" fill="#f0832a"/>
<use href="#d9" fill="#dc3127"/>
</g>
<mask id="m_clip_d" maskUnits="userSpaceOnUse" x="0" y="0" width="1382" height="1016"><rect x="0" y="0" width="1382" height="1016" fill="#fff"/><rect x="160.3" y="664.3" width="35.4" height="11.2" fill="#000" transform="rotate(3 178 676)"/><rect x="289.1" y="648.8" width="35.4" height="11.2" fill="#000" transform="rotate(-5 306.8 660.5)"/><rect x="217.8" y="680.3" width="35.4" height="11.2" fill="#000" transform="rotate(2 235.5 692)"/><rect x="127.5" y="680.8" width="25.9" height="11.2" fill="#000" transform="rotate(2 140.5 692.5)"/><rect x="206.3" y="685.8" width="25.9" height="11.2" fill="#000" transform="rotate(-8 219.2 697.5)"/><rect x="145" y="699.3" width="25.9" height="11.2" fill="#000" transform="rotate(-3 158 711)"/><rect x="151.9" y="724.3" width="25.9" height="11.2" fill="#000" transform="rotate(-8 164.9 736)"/><rect x="633.3" y="651.3" width="25.9" height="11.2" fill="#000" transform="rotate(12 646.2 663)"/><rect x="715" y="652.3" width="25.9" height="11.2" fill="#000" transform="rotate(15 728 664)"/><rect x="580.8" y="684.8" width="25.9" height="11.2" fill="#000"/><rect x="698.3" y="693" width="25.9" height="11.2" fill="#000"/><rect x="602.5" y="736.3" width="25.9" height="11.2" fill="#000" transform="rotate(3 615.5 748)"/><rect x="497" y="756.8" width="25.9" height="11.2" fill="#000" transform="rotate(3 510 768.5)"/><rect x="565.8" y="771.3" width="25.9" height="11.2" fill="#000" transform="rotate(3 578.8 783)"/><rect x="562" y="806.8" width="25.9" height="11.2" fill="#000" transform="rotate(-20 575 818.5)"/></mask>
<g clip-path="url(#clip_d)"><g mask="url(#m_clip_d)" fill="none" stroke="#000" stroke-opacity="0.85" stroke-width="1.3" stroke-linejoin="round">
<use href="#d0"/>
<use href="#d1"/>
<use href="#d2"/>
<use href="#d3"/>
<use href="#d4"/>
<use href="#d5"/>
<use href="#d6"/>
<use href="#d7"/>
<use href="#d8"/>
<use href="#d9"/>
</g></g>
<path d="M113.5 651 L113.5 711.5 L308 824 L452 868.5 L563.8 888 L740.3 789 L740.3 651 Z" fill="none" stroke="#111" stroke-width="1.2" stroke-linejoin="round"/>
<clipPath id="lc_clip_d"><path d="M98.5 636 L98.5 711.5 L308 824 L452 868.5 L563.8 888 L755.3 789 L755.3 636 Z"/></clipPath>
<g clip-path="url(#lc_clip_d)">
<text x="178" y="676" font-size="17" text-anchor="middle" fill="#1a1a1a" transform="rotate(3 178 676)" stroke="#1a1a1a" stroke-width="0.3">130</text>
<text x="306.8" y="660.5" font-size="17" text-anchor="middle" fill="#1a1a1a" transform="rotate(-5 306.8 660.5)" stroke="#1a1a1a" stroke-width="0.3">130</text>
<text x="235.5" y="692" font-size="17" text-anchor="middle" fill="#1a1a1a" transform="rotate(2 235.5 692)" stroke="#1a1a1a" stroke-width="0.3">110</text>
<text x="140.5" y="692.5" font-size="17" text-anchor="middle" fill="#1a1a1a" transform="rotate(2 140.5 692.5)" stroke="#1a1a1a" stroke-width="0.3">90</text>
<text x="219.2" y="697.5" font-size="17" text-anchor="middle" fill="#1a1a1a" transform="rotate(-8 219.2 697.5)" stroke="#1a1a1a" stroke-width="0.3">70</text>
<text x="158" y="711" font-size="17" text-anchor="middle" fill="#1a1a1a" transform="rotate(-3 158 711)" stroke="#1a1a1a" stroke-width="0.3">50</text>
<text x="164.9" y="736" font-size="17" text-anchor="middle" fill="#1a1a1a" transform="rotate(-8 164.9 736)" stroke="#1a1a1a" stroke-width="0.3">30</text>
<text x="646.2" y="663" font-size="17" text-anchor="middle" fill="#1a1a1a" transform="rotate(12 646.2 663)" stroke="#1a1a1a" stroke-width="0.3">90</text>
<text x="728" y="664" font-size="17" text-anchor="middle" fill="#1a1a1a" transform="rotate(15 728 664)" stroke="#1a1a1a" stroke-width="0.3">70</text>
<text x="593.8" y="696.5" font-size="17" text-anchor="middle" fill="#1a1a1a" stroke="#1a1a1a" stroke-width="0.3">70</text>
<text x="711.2" y="704.8" font-size="17" text-anchor="middle" fill="#1a1a1a" stroke="#1a1a1a" stroke-width="0.3">70</text>
<text x="615.5" y="748" font-size="17" text-anchor="middle" fill="#1a1a1a" transform="rotate(3 615.5 748)" stroke="#1a1a1a" stroke-width="0.3">50</text>
<text x="510" y="768.5" font-size="17" text-anchor="middle" fill="#1a1a1a" transform="rotate(3 510 768.5)" stroke="#1a1a1a" stroke-width="0.3">30</text>
<text x="578.8" y="783" font-size="17" text-anchor="middle" fill="#1a1a1a" transform="rotate(3 578.8 783)" stroke="#1a1a1a" stroke-width="0.3">30</text>
<text x="575" y="818.5" font-size="17" text-anchor="middle" fill="#1a1a1a" transform="rotate(-20 575 818.5)" stroke="#1a1a1a" stroke-width="0.3">10</text>
</g>
<g stroke="#262626" stroke-width="1.6" fill="none">
<rect x="113.5" y="651" width="626.8" height="285"/>
<path d="M256.1 936 v-4.5 M256.1 651 v4.5 M398.7 936 v-4.5 M398.7 651 v4.5 M541.3 936 v-4.5 M541.3 651 v4.5 M683.9 936 v-4.5 M683.9 651 v4.5 M113.5 686 h4.5 M740.3 686 h-4.5 M113.5 721.6 h4.5 M740.3 721.6 h-4.5 M113.5 757.3 h4.5 M740.3 757.3 h-4.5 M113.5 793 h4.5 M740.3 793 h-4.5 M113.5 828.7 h4.5 M740.3 828.7 h-4.5 M113.5 864.3 h4.5 M740.3 864.3 h-4.5 M113.5 900 h4.5 M740.3 900 h-4.5 " stroke-width="1"/>
</g>
<text x="103.5" y="660.6" font-size="25" text-anchor="end" fill="#262626">0</text>
<text x="103.5" y="696.3" font-size="25" text-anchor="end" fill="#262626">50</text>
<text x="103.5" y="731.9" font-size="25" text-anchor="end" fill="#262626">100</text>
<text x="103.5" y="767.6" font-size="25" text-anchor="end" fill="#262626">150</text>
<text x="103.5" y="803.3" font-size="25" text-anchor="end" fill="#262626">200</text>
<text x="103.5" y="839" font-size="25" text-anchor="end" fill="#262626">250</text>
<text x="103.5" y="874.6" font-size="25" text-anchor="end" fill="#262626">300</text>
<text x="103.5" y="910.3" font-size="25" text-anchor="end" fill="#262626">350</text>
<text x="103.5" y="946" font-size="25" text-anchor="end" fill="#262626">400</text>
<text x="113.5" y="971.5" font-size="25" text-anchor="middle" fill="#262626">0</text>
<text x="256.1" y="971.5" font-size="25" text-anchor="middle" fill="#262626">2</text>
<text x="398.7" y="971.5" font-size="25" text-anchor="middle" fill="#262626">4</text>
<text x="541.3" y="971.5" font-size="25" text-anchor="middle" fill="#262626">6</text>
<text x="683.9" y="971.5" font-size="25" text-anchor="middle" fill="#262626">8</text>
<text x="426.9" y="1005.8" font-size="25.5" text-anchor="middle" fill="#262626">Distance (km)</text>
<text x="50.3" y="792" font-size="25.5" text-anchor="middle" fill="#262626" transform="rotate(-90 50.3 792)">Depth (meter)</text>
<text x="39.9" y="634.5" font-size="32" text-anchor="start" fill="#111">(d)</text>
<text x="123" y="645" font-size="21" text-anchor="start" fill="#111" transform="rotate(-90 123 645)">CN2</text>
<text x="317.6" y="645" font-size="21" text-anchor="start" fill="#111" transform="rotate(-90 317.6 645)">CN1</text>
<text x="461.7" y="645" font-size="21" text-anchor="start" fill="#111" transform="rotate(-90 461.7 645)">Kb1</text>
<text x="572.2" y="645" font-size="21" text-anchor="start" fill="#111" transform="rotate(-90 572.2 645)">CS1</text>
<text x="749.7" y="645" font-size="21" text-anchor="start" fill="#111" transform="rotate(-90 749.7 645)">CS2</text>
<rect x="119.8" y="861.1" width="136.6" height="31.9" fill="#fff" stroke="#3c3c3c" stroke-width="1.4"/>
<text x="126.7" y="884.4" font-size="25" text-anchor="start" fill="#111">April 2006</text>
<rect x="269.9" y="861.1" width="164.3" height="31.9" fill="#fff" stroke="#3c3c3c" stroke-width="1.4"/>
<text x="278.2" y="884.4" font-size="25" text-anchor="start" fill="#111">Fluorescence</text>
<rect x="119.8" y="897.2" width="307.5" height="31.5" fill="#fff" stroke="#3c3c3c" stroke-width="1.4"/>
<text x="131.6" y="920.6" font-size="25" text-anchor="start" fill="#111" word-spacing="1.3">Transect C, Kongsfjorden</text>
<rect x="843.5" y="649.7" width="525.2" height="287.5" fill="#bdbbbc"/>
<path d="M843.5 649.7 L843.5 723.5 L939.2 799.5 L1085.5 853.5 L1308.8 870.2 L1368.7 740.2 L1368.7 649.7 Z" fill="#4552ab" stroke="none" stroke-width="1.3" stroke-linejoin="round"/>
<clipPath id="clip_e"><path d="M843.5 649.7 L843.5 723.5 L939.2 799.5 L1085.5 853.5 L1308.8 870.2 L1368.7 740.2 L1368.7 649.7 Z"/></clipPath>
<defs>
<path id="e0" d="M803.5 657.8 L843.5 657.8 C846.8 657.9 855.6 658.2 863 658.5 C870.4 658.8 879.7 659.2 888 659.5 C896.3 659.8 904.7 660.2 913 660.5 C921.3 660.8 932.2 661.3 938 661.5 C943.8 661.7 944.7 661.8 948 661.5 C951.3 661.2 954.7 660.2 958 659.5 C961.3 658.8 963 657.6 968 657 C973 656.4 980.5 656.3 988 656 C995.5 655.7 1004.7 655.5 1013 655.2 C1021.3 655 1029.7 654.7 1038 654.5 C1046.3 654.3 1054.7 654.1 1063 654 C1071.3 653.9 1079.7 654 1088 654 C1096.3 654 1106 653.9 1113 654 C1120 654.1 1118.8 654.4 1130 654.5 C1141.2 654.6 1163.3 654.4 1180 654.5 C1196.7 654.6 1215 654.7 1230 655.2 C1245 655.8 1257.5 657.2 1270 657.8 C1282.5 658.3 1295 658.3 1305 658.5 C1315 658.7 1319.4 658.7 1330 659 C1340.6 659.3 1362.3 660 1368.8 660.2 L1408.7 660.2 L1408.7 705 L1368.8 705 C1366.5 705 1361.5 705 1355 705 C1348.5 705 1338.3 704.8 1330 704.8 C1321.7 704.7 1313.3 704.7 1305 704.5 C1296.7 704.3 1288.3 704.1 1280 703.8 C1271.7 703.4 1263.3 702.8 1255 702.2 C1246.7 701.7 1238.3 701 1230 700.2 C1221.7 699.5 1212.8 698.6 1205 697.8 C1197.2 696.9 1189.2 696 1183 695.2 C1176.8 694.5 1173 694.2 1167.5 693.5 C1162 692.8 1154.9 691.8 1150 691 C1145.1 690.2 1140.6 690 1138 689 C1135.4 688 1136.3 686.3 1134.2 685.2 C1132.2 684.2 1129 683.6 1125.5 682.8 C1122 681.9 1117.2 681.4 1113 680.2 C1108.8 679.1 1104.2 677.4 1100.5 676 C1096.8 674.6 1092.8 673.2 1090.5 672 C1088.2 670.8 1088.8 669.5 1086.8 669 C1084.7 668.5 1082 668.7 1078 669 C1074 669.3 1069.7 670 1063 671 C1056.3 672 1046.3 674.1 1038 675.2 C1029.7 676.4 1022.6 677 1013 677.8 C1003.4 678.5 989.5 679 980.5 679.5 C971.5 680 966.3 680.6 959.2 680.8 C952.2 680.9 945.7 680.6 938 680.2 C930.3 679.9 921.3 679.3 913 678.5 C904.7 677.7 896.3 676.6 888 675.2 C879.7 673.9 868.8 671.4 863 670.2 C857.2 669.1 856.2 668.6 853 668.2 C849.8 667.9 845.1 668.2 843.5 668.2 L803.5 668.2 Z"/>
<path id="e1" d="M1408.7 667 L1368.8 667 C1362.3 667.1 1340.6 667.6 1330 667.8 C1319.4 667.9 1313.3 667.7 1305 667.8 C1296.7 667.8 1288.3 668.2 1280 668.2 C1271.7 668.3 1263.3 668.2 1255 668.2 C1246.7 668.2 1238.3 668.1 1230 668.2 C1221.7 668.4 1213.3 668.7 1205 669 C1196.7 669.3 1188.5 669.5 1180 670.2 C1171.5 671 1153.8 672.5 1153.8 673.5 C1153.8 674.5 1171.5 675.6 1180 676.5 C1188.5 677.4 1196.7 678.2 1205 679 C1213.3 679.8 1221.7 680.4 1230 681 C1238.3 681.6 1246.7 682.2 1255 682.8 C1263.3 683.3 1273.8 683.9 1280 684.5 C1286.2 685.1 1289.6 685.8 1292.5 686.5 C1295.4 687.2 1294.2 688.5 1297.5 689 C1300.8 689.5 1307.1 689.7 1312.5 689.5 C1317.9 689.3 1322.9 688.2 1330 687.8 C1337.1 687.3 1348.5 687.1 1355 687 C1361.5 686.9 1366.5 687 1368.8 687 L1408.7 687 Z"/>
<path id="e2" d="M1408.7 669.8 L1368.8 669.8 C1362.3 669.8 1340.6 669.9 1330 670 C1319.4 670.1 1313.3 670.2 1305 670.2 C1296.7 670.3 1288.3 670.4 1280 670.5 C1271.7 670.6 1263.3 670.6 1255 670.8 C1246.7 670.9 1236.9 671 1230 671.5 C1223.1 672 1213.8 672.8 1213.8 673.5 C1213.8 674.2 1223.1 675.4 1230 676 C1236.9 676.6 1246.7 676.8 1255 677.2 C1263.3 677.8 1274.2 678.3 1280 679 C1285.8 679.7 1287.5 680.7 1290 681.5 C1292.5 682.3 1292.5 683.7 1295 684 C1297.5 684.3 1299.2 683.7 1305 683.5 C1310.8 683.3 1321.7 683.1 1330 682.8 C1338.3 682.4 1348.5 681.9 1355 681.5 C1361.5 681.1 1366.5 680.5 1368.8 680.2 L1408.7 680.2 Z"/>
<path id="e3" d="M1298.8 673.5 C1298.8 673 1301.9 672.3 1305 672 C1308.1 671.7 1313.3 671.5 1317.5 671.5 C1321.7 671.5 1327.6 671.9 1330 672.2 C1332.4 672.6 1332 673 1332 673.5 C1332 674 1332.4 674.6 1330 675 C1327.6 675.4 1321.7 676 1317.5 676 C1313.3 676 1308.1 675.7 1305 675.2 C1301.9 674.8 1298.8 674 1298.8 673.5 Z"/>
<path id="e4" d="M1300 711.5 L1310 711 L1318.8 710.2"/>
</defs>
<g clip-path="url(#clip_e)" stroke="none">
<use href="#e0" fill="#5186c1"/>
<use href="#e1" fill="#9fe0d8"/>
<use href="#e2" fill="#abe38a"/>
<use href="#e3" fill="#f4dc35"/>
</g>
<mask id="m_clip_e" maskUnits="userSpaceOnUse" x="0" y="0" width="1382" height="1016"><rect x="0" y="0" width="1382" height="1016" fill="#fff"/><rect x="943.9" y="674.8" width="30.6" height="11.2" fill="#000"/><rect x="1236.7" y="650.3" width="30.6" height="11.2" fill="#000" transform="rotate(8 1252 662)"/><rect x="1253.4" y="663.5" width="30.6" height="11.2" fill="#000"/><rect x="1275.9" y="663.5" width="30.6" height="11.2" fill="#000"/><rect x="1270.9" y="671.8" width="30.6" height="11.2" fill="#000" transform="rotate(25 1286.2 683.5)"/><rect x="1272.2" y="706" width="30.6" height="11.2" fill="#000" transform="rotate(8 1287.5 717.8)"/></mask>
<g clip-path="url(#clip_e)"><g mask="url(#m_clip_e)" fill="none" stroke="#000" stroke-opacity="0.85" stroke-width="1.3" stroke-linejoin="round">
<use href="#e0"/>
<use href="#e1"/>
<use href="#e2"/>
<use href="#e3"/>
<use href="#e4"/>
</g></g>
<path d="M843.5 649.7 L843.5 723.5 L939.2 799.5 L1085.5 853.5 L1308.8 870.2 L1368.7 740.2 L1368.7 649.7 Z" fill="none" stroke="#111" stroke-width="1.2" stroke-linejoin="round"/>
<clipPath id="lc_clip_e"><path d="M828.5 634.7 L828.5 723.5 L939.2 799.5 L1085.5 853.5 L1308.8 870.2 L1383.7 740.2 L1383.7 634.7 Z"/></clipPath>
<g clip-path="url(#lc_clip_e)">
<text x="959.2" y="686.5" font-size="17" text-anchor="middle" fill="#1a1a1a" stroke="#1a1a1a" stroke-width="0.3">0.2</text>
<text x="1252" y="662" font-size="17" text-anchor="middle" fill="#1a1a1a" transform="rotate(8 1252 662)" stroke="#1a1a1a" stroke-width="0.3">0.2</text>
<text x="1268.8" y="675.2" font-size="17" text-anchor="middle" fill="#1a1a1a" stroke="#1a1a1a" stroke-width="0.3">0.3</text>
<text x="1291.2" y="675.2" font-size="17" text-anchor="middle" fill="#1a1a1a" stroke="#1a1a1a" stroke-width="0.3">0.4</text>
<text x="1286.2" y="683.5" font-size="17" text-anchor="middle" fill="#1a1a1a" transform="rotate(25 1286.2 683.5)" stroke="#1a1a1a" stroke-width="0.3">0.5</text>
<text x="1287.5" y="717.8" font-size="17" text-anchor="middle" fill="#1a1a1a" transform="rotate(8 1287.5 717.8)" stroke="#1a1a1a" stroke-width="0.3">0.2</text>
</g>
<g stroke="#262626" stroke-width="1.6" fill="none">
<rect x="843.5" y="649.7" width="525.2" height="287.5"/>
<path d="M987.7 937.2 v-4.5 M987.7 649.7 v4.5 M1131.9 937.2 v-4.5 M1131.9 649.7 v4.5 M1276.1 937.2 v-4.5 M1276.1 649.7 v4.5 M843.5 685.8 h4.5 M1368.7 685.8 h-4.5 M843.5 721.6 h4.5 M1368.7 721.6 h-4.5 M843.5 757.5 h4.5 M1368.7 757.5 h-4.5 M843.5 793.5 h4.5 M1368.7 793.5 h-4.5 M843.5 829.4 h4.5 M1368.7 829.4 h-4.5 M843.5 865.2 h4.5 M1368.7 865.2 h-4.5 M843.5 901.1 h4.5 M1368.7 901.1 h-4.5 " stroke-width="1"/>
</g>
<text x="833.5" y="660.1" font-size="25" text-anchor="end" fill="#262626">0</text>
<text x="833.5" y="696" font-size="25" text-anchor="end" fill="#262626">50</text>
<text x="833.5" y="731.9" font-size="25" text-anchor="end" fill="#262626">100</text>
<text x="833.5" y="767.8" font-size="25" text-anchor="end" fill="#262626">150</text>
<text x="833.5" y="803.8" font-size="25" text-anchor="end" fill="#262626">200</text>
<text x="833.5" y="839.6" font-size="25" text-anchor="end" fill="#262626">250</text>
<text x="833.5" y="875.5" font-size="25" text-anchor="end" fill="#262626">300</text>
<text x="833.5" y="911.4" font-size="25" text-anchor="end" fill="#262626">350</text>
<text x="833.5" y="947.3" font-size="25" text-anchor="end" fill="#262626">400</text>
<text x="843.5" y="972" font-size="25" text-anchor="middle" fill="#262626">0</text>
<text x="987.7" y="972" font-size="25" text-anchor="middle" fill="#262626">2</text>
<text x="1131.9" y="972" font-size="25" text-anchor="middle" fill="#262626">4</text>
<text x="1276.1" y="972" font-size="25" text-anchor="middle" fill="#262626">6</text>
<text x="1106.1" y="1007.4" font-size="25.5" text-anchor="middle" fill="#262626">Distance (km)</text>
<text x="780.3" y="792" font-size="25.5" text-anchor="middle" fill="#262626" transform="rotate(-90 780.3 792)">Depth (meter)</text>
<text x="770.7" y="632.8" font-size="32" text-anchor="start" fill="#111">(e)</text>
<text x="853" y="645" font-size="21" text-anchor="start" fill="#111" transform="rotate(-90 853 645)">M10</text>
<text x="948.9" y="645" font-size="21" text-anchor="start" fill="#111" transform="rotate(-90 948.9 645)">M9</text>
<text x="1096" y="645" font-size="21" text-anchor="start" fill="#111" transform="rotate(-90 1096 645)">M8</text>
<text x="1318" y="645" font-size="21" text-anchor="start" fill="#111" transform="rotate(-90 1318 645)">M7</text>
<text x="1377.9" y="645" font-size="21" text-anchor="start" fill="#111" transform="rotate(-90 1377.9 645)">M6</text>
<rect x="849.8" y="861.8" width="137.8" height="32.5" fill="#fff" stroke="#3c3c3c" stroke-width="1.4"/>
<text x="857.8" y="886.4" font-size="25" text-anchor="start" fill="#111">June 2006</text>
<rect x="1001.1" y="861.8" width="166.6" height="32.5" fill="#fff" stroke="#3c3c3c" stroke-width="1.4"/>
<text x="1009.7" y="886.4" font-size="25" text-anchor="start" fill="#111">Fluorescence</text>
<rect x="849.8" y="898.7" width="311.2" height="31.7" fill="#fff" stroke="#3c3c3c" stroke-width="1.4"/>
<text x="861.6" y="922.6" font-size="25" text-anchor="start" fill="#111" word-spacing="1.3">Transect B, Kongsfjorden</text>
</svg>
</body></html>
